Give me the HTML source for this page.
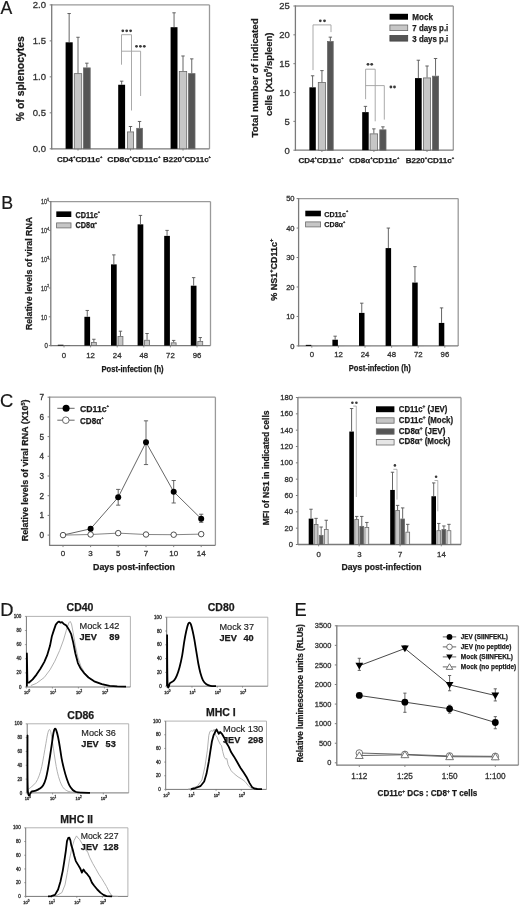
<!DOCTYPE html><html><head><meta charset="utf-8"><style>html,body{margin:0;padding:0;background:#fff;}svg{display:block;filter:grayscale(1) blur(0.35px);}text{font-family:"Liberation Sans",sans-serif;}</style></head><body>
<svg width="520" height="906" viewBox="0 0 520 906">
<rect width="520" height="906" fill="#fff"/>
<text x="0.6" y="14" font-size="17.6" fill="#1a1a1a" stroke="#000" stroke-width="0.18">A</text>
<line x1="51.7" y1="4.9" x2="209.5" y2="4.9" stroke="#9a9a9a" stroke-width="1.3"/>
<line x1="209.5" y1="4.9" x2="209.5" y2="148.8" stroke="#9a9a9a" stroke-width="1.3"/>
<line x1="51.7" y1="148.8" x2="209.5" y2="148.8" stroke="#7a7a7a" stroke-width="1.3"/>
<line x1="51.7" y1="4.3" x2="51.7" y2="149.4" stroke="#7a7a7a" stroke-width="1.3"/>
<line x1="49.7" y1="4.9" x2="51.7" y2="4.9" stroke="#7a7a7a" stroke-width="1"/>
<text x="46" y="8.3" font-size="9.5" text-anchor="end" fill="#333" stroke="#333" stroke-width="0.3">2.0</text>
<line x1="49.7" y1="40.88" x2="51.7" y2="40.88" stroke="#7a7a7a" stroke-width="1"/>
<text x="46" y="44.27" font-size="9.5" text-anchor="end" fill="#333" stroke="#333" stroke-width="0.3">1.5</text>
<line x1="49.7" y1="76.85" x2="51.7" y2="76.85" stroke="#7a7a7a" stroke-width="1"/>
<text x="46" y="80.25" font-size="9.5" text-anchor="end" fill="#333" stroke="#333" stroke-width="0.3">1.0</text>
<line x1="49.7" y1="112.83" x2="51.7" y2="112.83" stroke="#7a7a7a" stroke-width="1"/>
<text x="46" y="116.23" font-size="9.5" text-anchor="end" fill="#333" stroke="#333" stroke-width="0.3">0.5</text>
<line x1="49.7" y1="148.8" x2="51.7" y2="148.8" stroke="#7a7a7a" stroke-width="1"/>
<text x="46" y="152.2" font-size="9.5" text-anchor="end" fill="#333" stroke="#333" stroke-width="0.3">0.0</text>
<text x="23.6" y="78.7" font-size="10" font-weight="bold" text-anchor="middle" textLength="85" lengthAdjust="spacingAndGlyphs" transform="rotate(-90 23.6 78.7)" fill="#1a1a1a" stroke="#1a1a1a" stroke-width="0.25">%  of splenocytes</text>
<rect x="65.6" y="42.31" width="7.1" height="106.49" fill="#000"/>
<line x1="69.15" y1="13.53" x2="69.15" y2="42.31" stroke="#555" stroke-width="0.9"/>
<line x1="67.45" y1="13.53" x2="70.85" y2="13.53" stroke="#555" stroke-width="0.9"/>
<rect x="74.3" y="73.65" width="7.4" height="75.15" fill="#c6c6c6" stroke="#6a6a6a" stroke-width="0.8"/>
<line x1="78" y1="37.28" x2="78" y2="73.25" stroke="#555" stroke-width="0.9"/>
<line x1="76.3" y1="37.28" x2="79.7" y2="37.28" stroke="#555" stroke-width="0.9"/>
<rect x="83.5" y="67.9" width="6.7" height="80.9" fill="#555555" stroke="#6a6a6a" stroke-width="0.8"/>
<line x1="86.85" y1="63.18" x2="86.85" y2="67.5" stroke="#555" stroke-width="0.9"/>
<line x1="85.15" y1="63.18" x2="88.55" y2="63.18" stroke="#555" stroke-width="0.9"/>
<rect x="118.2" y="84.76" width="6.9" height="64.04" fill="#000"/>
<line x1="121.65" y1="81.17" x2="121.65" y2="84.76" stroke="#555" stroke-width="0.9"/>
<line x1="119.95" y1="81.17" x2="123.35" y2="81.17" stroke="#555" stroke-width="0.9"/>
<rect x="127.4" y="131.93" width="6.2" height="16.87" fill="#c6c6c6" stroke="#6a6a6a" stroke-width="0.8"/>
<line x1="130.5" y1="126.5" x2="130.5" y2="131.53" stroke="#555" stroke-width="0.9"/>
<line x1="128.8" y1="126.5" x2="132.2" y2="126.5" stroke="#555" stroke-width="0.9"/>
<rect x="136.7" y="128.33" width="5.7" height="20.47" fill="#555555" stroke="#6a6a6a" stroke-width="0.8"/>
<line x1="139.55" y1="121.46" x2="139.55" y2="127.93" stroke="#555" stroke-width="0.9"/>
<line x1="137.85" y1="121.46" x2="141.25" y2="121.46" stroke="#555" stroke-width="0.9"/>
<rect x="170.6" y="27.2" width="6.9" height="121.6" fill="#000"/>
<line x1="174.05" y1="12.81" x2="174.05" y2="27.2" stroke="#555" stroke-width="0.9"/>
<line x1="172.35" y1="12.81" x2="175.75" y2="12.81" stroke="#555" stroke-width="0.9"/>
<rect x="179.3" y="71.49" width="7.4" height="77.31" fill="#c6c6c6" stroke="#6a6a6a" stroke-width="0.8"/>
<line x1="183" y1="55.98" x2="183" y2="71.09" stroke="#555" stroke-width="0.9"/>
<line x1="181.3" y1="55.98" x2="184.7" y2="55.98" stroke="#555" stroke-width="0.9"/>
<rect x="188.5" y="73.65" width="6.5" height="75.15" fill="#555555" stroke="#6a6a6a" stroke-width="0.8"/>
<line x1="191.75" y1="58.86" x2="191.75" y2="73.25" stroke="#555" stroke-width="0.9"/>
<line x1="190.05" y1="58.86" x2="193.45" y2="58.86" stroke="#555" stroke-width="0.9"/>
<line x1="121.5" y1="34.7" x2="131.5" y2="34.7" stroke="#a0a0a0" stroke-width="0.9"/>
<line x1="121.5" y1="34.7" x2="121.5" y2="64.7" stroke="#a0a0a0" stroke-width="0.9"/>
<line x1="131.5" y1="34.7" x2="131.5" y2="110.5" stroke="#a0a0a0" stroke-width="0.9"/>
<line x1="121.5" y1="51.2" x2="140.6" y2="51.2" stroke="#a0a0a0" stroke-width="0.9"/>
<line x1="140.6" y1="51.2" x2="140.6" y2="96" stroke="#a0a0a0" stroke-width="0.9"/>
<circle cx="122.8" cy="30.8" r="1.4" fill="#3a3a3a"/>
<circle cx="126.7" cy="30.8" r="1.4" fill="#3a3a3a"/>
<circle cx="130.6" cy="30.8" r="1.4" fill="#3a3a3a"/>
<circle cx="136.5" cy="46.3" r="1.4" fill="#3a3a3a"/>
<circle cx="140.4" cy="46.3" r="1.4" fill="#3a3a3a"/>
<circle cx="144.3" cy="46.3" r="1.4" fill="#3a3a3a"/>
<line x1="78" y1="148.8" x2="78" y2="150.6" stroke="#7a7a7a" stroke-width="0.9"/>
<line x1="130.5" y1="148.8" x2="130.5" y2="150.6" stroke="#7a7a7a" stroke-width="0.9"/>
<line x1="183" y1="148.8" x2="183" y2="150.6" stroke="#7a7a7a" stroke-width="0.9"/>
<text x="57" y="162" font-size="8" font-weight="bold" textLength="45.4" lengthAdjust="spacingAndGlyphs" fill="#1a1a1a" stroke="#1a1a1a" stroke-width="0.25"><tspan dy="0">CD4</tspan><tspan font-size="4.16" dy="-3.6">+</tspan><tspan dy="3.6">CD11c</tspan><tspan font-size="4.16" dy="-3.6">+</tspan></text>
<text x="107.3" y="162" font-size="8" font-weight="bold" textLength="53.3" lengthAdjust="spacingAndGlyphs" fill="#1a1a1a" stroke="#1a1a1a" stroke-width="0.25"><tspan dy="0">CD8&#945;</tspan><tspan font-size="4.16" dy="-3.6">+</tspan><tspan dy="3.6">CD11c</tspan><tspan font-size="4.16" dy="-3.6">+</tspan></text>
<text x="163.1" y="162" font-size="8" font-weight="bold" textLength="47.9" lengthAdjust="spacingAndGlyphs" fill="#1a1a1a" stroke="#1a1a1a" stroke-width="0.25"><tspan dy="0">B220</tspan><tspan font-size="4.16" dy="-3.6">+</tspan><tspan dy="3.6">CD11c</tspan><tspan font-size="4.16" dy="-3.6">+</tspan></text>
<line x1="295.4" y1="6" x2="453.3" y2="6" stroke="#9a9a9a" stroke-width="1.3"/>
<line x1="453.3" y1="6" x2="453.3" y2="150.2" stroke="#9a9a9a" stroke-width="1.3"/>
<line x1="295.4" y1="150.2" x2="453.3" y2="150.2" stroke="#7a7a7a" stroke-width="1.3"/>
<line x1="295.4" y1="5.4" x2="295.4" y2="150.8" stroke="#7a7a7a" stroke-width="1.3"/>
<line x1="293.4" y1="6" x2="295.4" y2="6" stroke="#7a7a7a" stroke-width="1"/>
<text x="289.8" y="9.4" font-size="9.5" text-anchor="end" fill="#333" stroke="#333" stroke-width="0.3">25</text>
<line x1="293.4" y1="34.84" x2="295.4" y2="34.84" stroke="#7a7a7a" stroke-width="1"/>
<text x="289.8" y="38.24" font-size="9.5" text-anchor="end" fill="#333" stroke="#333" stroke-width="0.3">20</text>
<line x1="293.4" y1="63.68" x2="295.4" y2="63.68" stroke="#7a7a7a" stroke-width="1"/>
<text x="289.8" y="67.08" font-size="9.5" text-anchor="end" fill="#333" stroke="#333" stroke-width="0.3">15</text>
<line x1="293.4" y1="92.52" x2="295.4" y2="92.52" stroke="#7a7a7a" stroke-width="1"/>
<text x="289.8" y="95.92" font-size="9.5" text-anchor="end" fill="#333" stroke="#333" stroke-width="0.3">10</text>
<line x1="293.4" y1="121.36" x2="295.4" y2="121.36" stroke="#7a7a7a" stroke-width="1"/>
<text x="289.8" y="124.76" font-size="9.5" text-anchor="end" fill="#333" stroke="#333" stroke-width="0.3">5</text>
<line x1="293.4" y1="150.2" x2="295.4" y2="150.2" stroke="#7a7a7a" stroke-width="1"/>
<text x="289.8" y="153.6" font-size="9.5" text-anchor="end" fill="#333" stroke="#333" stroke-width="0.3">0</text>
<text x="258.5" y="77.8" font-size="9.8" font-weight="bold" text-anchor="middle" textLength="119.2" lengthAdjust="spacingAndGlyphs" transform="rotate(-90 258.5 77.8)" fill="#1a1a1a" stroke="#1a1a1a" stroke-width="0.25">Total number of indicated</text>
<text x="271.6" y="74.3" font-size="9.8" font-weight="bold" text-anchor="middle" textLength="83.6" lengthAdjust="spacingAndGlyphs" transform="rotate(-90 271.6 74.3)" fill="#1a1a1a" stroke="#1a1a1a" stroke-width="0.25">cells (X10<tspan font-size="6.2" dy="-3.8">5</tspan><tspan dy="3.8">/spleen)</tspan></text>
<rect x="309.4" y="87.33" width="6.4" height="62.87" fill="#000"/>
<line x1="312.6" y1="75.79" x2="312.6" y2="87.33" stroke="#555" stroke-width="0.9"/>
<line x1="310.9" y1="75.79" x2="314.3" y2="75.79" stroke="#555" stroke-width="0.9"/>
<rect x="318.3" y="82.54" width="7.3" height="67.66" fill="#c6c6c6" stroke="#6a6a6a" stroke-width="0.8"/>
<line x1="321.95" y1="70.6" x2="321.95" y2="82.14" stroke="#555" stroke-width="0.9"/>
<line x1="320.25" y1="70.6" x2="323.65" y2="70.6" stroke="#555" stroke-width="0.9"/>
<rect x="327.5" y="41.58" width="5.7" height="108.62" fill="#555555" stroke="#6a6a6a" stroke-width="0.8"/>
<line x1="330.35" y1="37.15" x2="330.35" y2="41.18" stroke="#555" stroke-width="0.9"/>
<line x1="328.65" y1="37.15" x2="332.05" y2="37.15" stroke="#555" stroke-width="0.9"/>
<rect x="362.2" y="112.13" width="6.5" height="38.07" fill="#000"/>
<line x1="365.45" y1="106.36" x2="365.45" y2="112.13" stroke="#555" stroke-width="0.9"/>
<line x1="363.75" y1="106.36" x2="367.15" y2="106.36" stroke="#555" stroke-width="0.9"/>
<rect x="370.1" y="133.87" width="7.5" height="16.33" fill="#c6c6c6" stroke="#6a6a6a" stroke-width="0.8"/>
<line x1="373.85" y1="128.86" x2="373.85" y2="133.47" stroke="#555" stroke-width="0.9"/>
<line x1="372.15" y1="128.86" x2="375.55" y2="128.86" stroke="#555" stroke-width="0.9"/>
<rect x="379.8" y="129.84" width="6.2" height="20.36" fill="#555555" stroke="#6a6a6a" stroke-width="0.8"/>
<line x1="382.9" y1="126.84" x2="382.9" y2="129.44" stroke="#555" stroke-width="0.9"/>
<line x1="381.2" y1="126.84" x2="384.6" y2="126.84" stroke="#555" stroke-width="0.9"/>
<rect x="415" y="78.1" width="6.7" height="72.1" fill="#000"/>
<line x1="418.35" y1="60.22" x2="418.35" y2="78.1" stroke="#555" stroke-width="0.9"/>
<line x1="416.65" y1="60.22" x2="420.05" y2="60.22" stroke="#555" stroke-width="0.9"/>
<rect x="423.5" y="77.92" width="7.1" height="72.28" fill="#c6c6c6" stroke="#6a6a6a" stroke-width="0.8"/>
<line x1="427.05" y1="65.99" x2="427.05" y2="77.52" stroke="#555" stroke-width="0.9"/>
<line x1="425.35" y1="65.99" x2="428.75" y2="65.99" stroke="#555" stroke-width="0.9"/>
<rect x="432.5" y="76.19" width="6.1" height="74.01" fill="#555555" stroke="#6a6a6a" stroke-width="0.8"/>
<line x1="435.55" y1="58.49" x2="435.55" y2="75.79" stroke="#555" stroke-width="0.9"/>
<line x1="433.85" y1="58.49" x2="437.25" y2="58.49" stroke="#555" stroke-width="0.9"/>
<line x1="313" y1="24.9" x2="331" y2="24.9" stroke="#a0a0a0" stroke-width="0.9"/>
<line x1="313" y1="24.9" x2="313" y2="70.1" stroke="#a0a0a0" stroke-width="0.9"/>
<line x1="331" y1="24.9" x2="331" y2="32.1" stroke="#a0a0a0" stroke-width="0.9"/>
<circle cx="320.3" cy="20.8" r="1.4" fill="#3a3a3a"/>
<circle cx="324.5" cy="20.8" r="1.4" fill="#3a3a3a"/>
<line x1="365.6" y1="69.2" x2="375.2" y2="69.2" stroke="#a0a0a0" stroke-width="0.9"/>
<line x1="365.6" y1="69.2" x2="365.6" y2="99.2" stroke="#a0a0a0" stroke-width="0.9"/>
<line x1="375.2" y1="69.2" x2="375.2" y2="121.3" stroke="#a0a0a0" stroke-width="0.9"/>
<line x1="365.6" y1="85.6" x2="384.3" y2="85.6" stroke="#a0a0a0" stroke-width="0.9"/>
<line x1="384.3" y1="85.6" x2="384.3" y2="119.6" stroke="#a0a0a0" stroke-width="0.9"/>
<circle cx="368" cy="64.3" r="1.4" fill="#3a3a3a"/>
<circle cx="371.7" cy="64.3" r="1.4" fill="#3a3a3a"/>
<circle cx="390.9" cy="87" r="1.4" fill="#3a3a3a"/>
<circle cx="394.5" cy="87" r="1.4" fill="#3a3a3a"/>
<rect x="389.6" y="13.8" width="18.4" height="5.9" fill="#000"/>
<rect x="389.9" y="25" width="17.8" height="5.6" fill="#c6c6c6" stroke="#6a6a6a" stroke-width="0.8"/>
<rect x="389.9" y="35.5" width="17.8" height="5.6" fill="#555555" stroke="#444" stroke-width="0.8"/>
<text x="412.3" y="19.8" font-size="9" font-weight="bold" textLength="20.6" lengthAdjust="spacingAndGlyphs" fill="#1a1a1a" stroke="#1a1a1a" stroke-width="0.25">Mock</text>
<text x="412.3" y="31" font-size="9" font-weight="bold" textLength="36" lengthAdjust="spacingAndGlyphs" fill="#1a1a1a" stroke="#1a1a1a" stroke-width="0.25">7 days p.i</text>
<text x="412.3" y="41.5" font-size="9" font-weight="bold" textLength="36" lengthAdjust="spacingAndGlyphs" fill="#1a1a1a" stroke="#1a1a1a" stroke-width="0.25">3 days p.i</text>
<line x1="321.9" y1="150.2" x2="321.9" y2="152" stroke="#7a7a7a" stroke-width="0.9"/>
<line x1="373.9" y1="150.2" x2="373.9" y2="152" stroke="#7a7a7a" stroke-width="0.9"/>
<line x1="427" y1="150.2" x2="427" y2="152" stroke="#7a7a7a" stroke-width="0.9"/>
<text x="298.4" y="162.6" font-size="8" font-weight="bold" textLength="45.3" lengthAdjust="spacingAndGlyphs" fill="#1a1a1a" stroke="#1a1a1a" stroke-width="0.25"><tspan dy="0">CD4</tspan><tspan font-size="4.16" dy="-3.6">+</tspan><tspan dy="3.6">CD11c</tspan><tspan font-size="4.16" dy="-3.6">+</tspan></text>
<text x="349.2" y="162.6" font-size="8" font-weight="bold" textLength="50.3" lengthAdjust="spacingAndGlyphs" fill="#1a1a1a" stroke="#1a1a1a" stroke-width="0.25"><tspan dy="0">CD8&#945;</tspan><tspan font-size="4.16" dy="-3.6">+</tspan><tspan dy="3.6">CD11c</tspan><tspan font-size="4.16" dy="-3.6">+</tspan></text>
<text x="405.7" y="162.6" font-size="8" font-weight="bold" textLength="48.4" lengthAdjust="spacingAndGlyphs" fill="#1a1a1a" stroke="#1a1a1a" stroke-width="0.25"><tspan dy="0">B220</tspan><tspan font-size="4.16" dy="-3.6">+</tspan><tspan dy="3.6">CD11c</tspan><tspan font-size="4.16" dy="-3.6">+</tspan></text>
<text x="1.3" y="209.2" font-size="17.8" fill="#1a1a1a" stroke="#000" stroke-width="0.18">B</text>
<line x1="50.8" y1="201.6" x2="210.5" y2="201.6" stroke="#9a9a9a" stroke-width="1.3"/>
<line x1="210.5" y1="201.6" x2="210.5" y2="345.6" stroke="#9a9a9a" stroke-width="1.3"/>
<line x1="50.8" y1="345.6" x2="210.5" y2="345.6" stroke="#7a7a7a" stroke-width="1.3"/>
<line x1="50.8" y1="201" x2="50.8" y2="346.2" stroke="#7a7a7a" stroke-width="1.3"/>
<line x1="48.8" y1="345.6" x2="50.8" y2="345.6" stroke="#7a7a7a" stroke-width="1"/>
<text x="0" y="0" font-size="7.6" text-anchor="end" transform="translate(47.8 348.3) scale(0.8 1)" fill="#333" stroke="#333" stroke-width="0.3">0</text>
<line x1="48.8" y1="316.8" x2="50.8" y2="316.8" stroke="#7a7a7a" stroke-width="1"/>
<text x="0" y="0" font-size="7.6" text-anchor="end" transform="translate(47 319.5) scale(0.72 1)" fill="#333" stroke="#333" stroke-width="0.3">10</text>
<line x1="48.8" y1="288" x2="50.8" y2="288" stroke="#7a7a7a" stroke-width="1"/>
<text x="0" y="0" font-size="7.6" text-anchor="end" transform="translate(48.9 290.7) scale(0.72 1)" fill="#333" stroke="#333" stroke-width="0.3">10<tspan font-size="4.4" dy="-3.4">2</tspan></text>
<line x1="48.8" y1="259.2" x2="50.8" y2="259.2" stroke="#7a7a7a" stroke-width="1"/>
<text x="0" y="0" font-size="7.6" text-anchor="end" transform="translate(48.9 261.9) scale(0.72 1)" fill="#333" stroke="#333" stroke-width="0.3">10<tspan font-size="4.4" dy="-3.4">3</tspan></text>
<line x1="48.8" y1="230.4" x2="50.8" y2="230.4" stroke="#7a7a7a" stroke-width="1"/>
<text x="0" y="0" font-size="7.6" text-anchor="end" transform="translate(48.9 233.1) scale(0.72 1)" fill="#333" stroke="#333" stroke-width="0.3">10<tspan font-size="4.4" dy="-3.4">4</tspan></text>
<line x1="48.8" y1="201.6" x2="50.8" y2="201.6" stroke="#7a7a7a" stroke-width="1"/>
<text x="0" y="0" font-size="7.6" text-anchor="end" transform="translate(48.9 204.3) scale(0.72 1)" fill="#333" stroke="#333" stroke-width="0.3">10<tspan font-size="4.4" dy="-3.4">5</tspan></text>
<text x="32.3" y="273.5" font-size="8.8" font-weight="bold" text-anchor="middle" textLength="113.2" lengthAdjust="spacingAndGlyphs" transform="rotate(-90 32.3 273.5)" fill="#1a1a1a" stroke="#1a1a1a" stroke-width="0.25">Relative levels of viral RNA</text>
<rect x="57.8" y="344.74" width="5.7" height="0.86" fill="#000"/>
<rect x="64.8" y="345.42" width="4.9" height="0.18" fill="#c6c6c6" stroke="#6a6a6a" stroke-width="0.8"/>
<text x="64" y="358.1" font-size="7.8" text-anchor="middle" fill="#333" stroke="#333" stroke-width="0.3">0</text>
<line x1="64" y1="345.6" x2="64" y2="347.4" stroke="#7a7a7a" stroke-width="0.9"/>
<rect x="84.4" y="316.8" width="5.7" height="28.8" fill="#000"/>
<line x1="87.25" y1="310.46" x2="87.25" y2="316.8" stroke="#555" stroke-width="0.9"/>
<line x1="85.55" y1="310.46" x2="88.95" y2="310.46" stroke="#555" stroke-width="0.9"/>
<rect x="91.4" y="342.54" width="4.9" height="3.06" fill="#c6c6c6" stroke="#6a6a6a" stroke-width="0.8"/>
<line x1="93.85" y1="339.26" x2="93.85" y2="342.14" stroke="#555" stroke-width="0.9"/>
<line x1="92.15" y1="339.26" x2="95.55" y2="339.26" stroke="#555" stroke-width="0.9"/>
<text x="90.6" y="358.1" font-size="7.8" text-anchor="middle" fill="#333" stroke="#333" stroke-width="0.3">12</text>
<line x1="90.6" y1="345.6" x2="90.6" y2="347.4" stroke="#7a7a7a" stroke-width="0.9"/>
<rect x="111" y="264.38" width="5.7" height="81.22" fill="#000"/>
<line x1="113.85" y1="254.88" x2="113.85" y2="264.38" stroke="#555" stroke-width="0.9"/>
<line x1="112.15" y1="254.88" x2="115.55" y2="254.88" stroke="#555" stroke-width="0.9"/>
<rect x="118" y="336.5" width="4.9" height="9.1" fill="#c6c6c6" stroke="#6a6a6a" stroke-width="0.8"/>
<line x1="120.45" y1="331.2" x2="120.45" y2="336.1" stroke="#555" stroke-width="0.9"/>
<line x1="118.75" y1="331.2" x2="122.15" y2="331.2" stroke="#555" stroke-width="0.9"/>
<text x="117.2" y="358.1" font-size="7.8" text-anchor="middle" fill="#333" stroke="#333" stroke-width="0.3">24</text>
<line x1="117.2" y1="345.6" x2="117.2" y2="347.4" stroke="#7a7a7a" stroke-width="0.9"/>
<rect x="137.6" y="224.35" width="5.7" height="121.25" fill="#000"/>
<line x1="140.45" y1="215.42" x2="140.45" y2="224.35" stroke="#555" stroke-width="0.9"/>
<line x1="138.75" y1="215.42" x2="142.15" y2="215.42" stroke="#555" stroke-width="0.9"/>
<rect x="144.6" y="340.24" width="4.9" height="5.36" fill="#c6c6c6" stroke="#6a6a6a" stroke-width="0.8"/>
<line x1="147.05" y1="333.5" x2="147.05" y2="339.84" stroke="#555" stroke-width="0.9"/>
<line x1="145.35" y1="333.5" x2="148.75" y2="333.5" stroke="#555" stroke-width="0.9"/>
<text x="143.8" y="358.1" font-size="7.8" text-anchor="middle" fill="#333" stroke="#333" stroke-width="0.3">48</text>
<line x1="143.8" y1="345.6" x2="143.8" y2="347.4" stroke="#7a7a7a" stroke-width="0.9"/>
<rect x="164.2" y="235.87" width="5.7" height="109.73" fill="#000"/>
<line x1="167.05" y1="230.4" x2="167.05" y2="235.87" stroke="#555" stroke-width="0.9"/>
<line x1="165.35" y1="230.4" x2="168.75" y2="230.4" stroke="#555" stroke-width="0.9"/>
<rect x="171.2" y="342.83" width="4.9" height="2.77" fill="#c6c6c6" stroke="#6a6a6a" stroke-width="0.8"/>
<line x1="173.65" y1="340.42" x2="173.65" y2="342.43" stroke="#555" stroke-width="0.9"/>
<line x1="171.95" y1="340.42" x2="175.35" y2="340.42" stroke="#555" stroke-width="0.9"/>
<text x="170.4" y="358.1" font-size="7.8" text-anchor="middle" fill="#333" stroke="#333" stroke-width="0.3">72</text>
<line x1="170.4" y1="345.6" x2="170.4" y2="347.4" stroke="#7a7a7a" stroke-width="0.9"/>
<rect x="190.8" y="285.7" width="5.7" height="59.9" fill="#000"/>
<line x1="193.65" y1="277.63" x2="193.65" y2="285.7" stroke="#555" stroke-width="0.9"/>
<line x1="191.95" y1="277.63" x2="195.35" y2="277.63" stroke="#555" stroke-width="0.9"/>
<rect x="197.8" y="341.39" width="4.9" height="4.21" fill="#c6c6c6" stroke="#6a6a6a" stroke-width="0.8"/>
<line x1="200.25" y1="337.54" x2="200.25" y2="340.99" stroke="#555" stroke-width="0.9"/>
<line x1="198.55" y1="337.54" x2="201.95" y2="337.54" stroke="#555" stroke-width="0.9"/>
<text x="197" y="358.1" font-size="7.8" text-anchor="middle" fill="#333" stroke="#333" stroke-width="0.3">96</text>
<line x1="197" y1="345.6" x2="197" y2="347.4" stroke="#7a7a7a" stroke-width="0.9"/>
<rect x="56.3" y="211.4" width="15" height="5.6" fill="#000"/>
<rect x="56.6" y="222.9" width="14.4" height="5" fill="#c6c6c6" stroke="#6a6a6a" stroke-width="0.8"/>
<text x="75.5" y="217.6" font-size="8.2" font-weight="bold" textLength="24.6" lengthAdjust="spacingAndGlyphs" fill="#1a1a1a" stroke="#1a1a1a" stroke-width="0.25">CD11c<tspan font-size="4.4" dy="-4.2">+</tspan></text>
<text x="75.5" y="228.2" font-size="8.2" font-weight="bold" textLength="21.5" lengthAdjust="spacingAndGlyphs" fill="#1a1a1a" stroke="#1a1a1a" stroke-width="0.25">CD8&#945;<tspan font-size="4.4" dy="-4.2">+</tspan></text>
<text x="132.6" y="371.6" font-size="8.6" font-weight="bold" text-anchor="middle" textLength="62" lengthAdjust="spacingAndGlyphs" fill="#1a1a1a" stroke="#1a1a1a" stroke-width="0.25">Post-infection (h)</text>
<line x1="298.6" y1="198.6" x2="458.2" y2="198.6" stroke="#9a9a9a" stroke-width="1.3"/>
<line x1="458.2" y1="198.6" x2="458.2" y2="345.9" stroke="#9a9a9a" stroke-width="1.3"/>
<line x1="298.6" y1="345.9" x2="458.2" y2="345.9" stroke="#7a7a7a" stroke-width="1.3"/>
<line x1="298.6" y1="198" x2="298.6" y2="346.5" stroke="#7a7a7a" stroke-width="1.3"/>
<line x1="296.6" y1="198.6" x2="298.6" y2="198.6" stroke="#7a7a7a" stroke-width="1"/>
<text x="294.6" y="201.2" font-size="7.6" text-anchor="end" fill="#333" stroke="#333" stroke-width="0.3">50</text>
<line x1="296.6" y1="228.06" x2="298.6" y2="228.06" stroke="#7a7a7a" stroke-width="1"/>
<text x="294.6" y="230.66" font-size="7.6" text-anchor="end" fill="#333" stroke="#333" stroke-width="0.3">40</text>
<line x1="296.6" y1="257.52" x2="298.6" y2="257.52" stroke="#7a7a7a" stroke-width="1"/>
<text x="294.6" y="260.12" font-size="7.6" text-anchor="end" fill="#333" stroke="#333" stroke-width="0.3">30</text>
<line x1="296.6" y1="286.98" x2="298.6" y2="286.98" stroke="#7a7a7a" stroke-width="1"/>
<text x="294.6" y="289.58" font-size="7.6" text-anchor="end" fill="#333" stroke="#333" stroke-width="0.3">20</text>
<line x1="296.6" y1="316.44" x2="298.6" y2="316.44" stroke="#7a7a7a" stroke-width="1"/>
<text x="294.6" y="319.04" font-size="7.6" text-anchor="end" fill="#333" stroke="#333" stroke-width="0.3">10</text>
<line x1="296.6" y1="345.9" x2="298.6" y2="345.9" stroke="#7a7a7a" stroke-width="1"/>
<text x="294.6" y="348.5" font-size="7.6" text-anchor="end" fill="#333" stroke="#333" stroke-width="0.3">0</text>
<text x="277.1" y="269.7" font-size="8.6" font-weight="bold" text-anchor="middle" textLength="62" lengthAdjust="spacingAndGlyphs" transform="rotate(-90 277.1 269.7)" fill="#1a1a1a" stroke="#1a1a1a" stroke-width="0.25">% NS1<tspan font-size="5.4" dy="-3.6">+</tspan><tspan dy="3.6">CD11c</tspan><tspan font-size="5.4" dy="-3.6">+</tspan></text>
<rect x="305.8" y="344.87" width="5.5" height="1.03" fill="#000"/>
<line x1="312.2" y1="345.6" x2="317.6" y2="345.6" stroke="#999" stroke-width="0.8"/>
<text x="311.9" y="357.3" font-size="7.8" text-anchor="middle" fill="#333" stroke="#333" stroke-width="0.3">0</text>
<line x1="311.8" y1="345.9" x2="311.8" y2="347.7" stroke="#7a7a7a" stroke-width="0.9"/>
<rect x="332.4" y="339.71" width="5.5" height="6.19" fill="#000"/>
<line x1="335.15" y1="336.18" x2="335.15" y2="339.71" stroke="#555" stroke-width="0.9"/>
<line x1="333.45" y1="336.18" x2="336.85" y2="336.18" stroke="#555" stroke-width="0.9"/>
<line x1="338.8" y1="345.6" x2="344.2" y2="345.6" stroke="#999" stroke-width="0.8"/>
<text x="338.5" y="357.3" font-size="7.8" text-anchor="middle" fill="#333" stroke="#333" stroke-width="0.3">12</text>
<line x1="338.4" y1="345.9" x2="338.4" y2="347.7" stroke="#7a7a7a" stroke-width="0.9"/>
<rect x="359" y="312.9" width="5.5" height="33" fill="#000"/>
<line x1="361.75" y1="303.18" x2="361.75" y2="312.9" stroke="#555" stroke-width="0.9"/>
<line x1="360.05" y1="303.18" x2="363.45" y2="303.18" stroke="#555" stroke-width="0.9"/>
<line x1="365.4" y1="345.6" x2="370.8" y2="345.6" stroke="#999" stroke-width="0.8"/>
<text x="365.1" y="357.3" font-size="7.8" text-anchor="middle" fill="#333" stroke="#333" stroke-width="0.3">24</text>
<line x1="365" y1="345.9" x2="365" y2="347.7" stroke="#7a7a7a" stroke-width="0.9"/>
<rect x="385.6" y="248.09" width="5.5" height="97.81" fill="#000"/>
<line x1="388.35" y1="228.06" x2="388.35" y2="248.09" stroke="#555" stroke-width="0.9"/>
<line x1="386.65" y1="228.06" x2="390.05" y2="228.06" stroke="#555" stroke-width="0.9"/>
<line x1="392" y1="345.6" x2="397.4" y2="345.6" stroke="#999" stroke-width="0.8"/>
<text x="391.7" y="357.3" font-size="7.8" text-anchor="middle" fill="#333" stroke="#333" stroke-width="0.3">48</text>
<line x1="391.6" y1="345.9" x2="391.6" y2="347.7" stroke="#7a7a7a" stroke-width="0.9"/>
<rect x="412.2" y="282.56" width="5.5" height="63.34" fill="#000"/>
<line x1="414.95" y1="266.65" x2="414.95" y2="282.56" stroke="#555" stroke-width="0.9"/>
<line x1="413.25" y1="266.65" x2="416.65" y2="266.65" stroke="#555" stroke-width="0.9"/>
<line x1="418.6" y1="345.6" x2="424" y2="345.6" stroke="#999" stroke-width="0.8"/>
<text x="418.3" y="357.3" font-size="7.8" text-anchor="middle" fill="#333" stroke="#333" stroke-width="0.3">72</text>
<line x1="418.2" y1="345.9" x2="418.2" y2="347.7" stroke="#7a7a7a" stroke-width="0.9"/>
<rect x="438.8" y="322.92" width="5.5" height="22.98" fill="#000"/>
<line x1="441.55" y1="307.9" x2="441.55" y2="322.92" stroke="#555" stroke-width="0.9"/>
<line x1="439.85" y1="307.9" x2="443.25" y2="307.9" stroke="#555" stroke-width="0.9"/>
<line x1="445.2" y1="345.6" x2="450.6" y2="345.6" stroke="#999" stroke-width="0.8"/>
<text x="444.9" y="357.3" font-size="7.8" text-anchor="middle" fill="#333" stroke="#333" stroke-width="0.3">96</text>
<line x1="444.8" y1="345.9" x2="444.8" y2="347.7" stroke="#7a7a7a" stroke-width="0.9"/>
<rect x="305.3" y="210.7" width="15.6" height="5.6" fill="#000"/>
<rect x="305.6" y="221.9" width="15" height="5" fill="#c6c6c6" stroke="#6a6a6a" stroke-width="0.8"/>
<text x="324.3" y="216.6" font-size="8.1" font-weight="bold" textLength="24" lengthAdjust="spacingAndGlyphs" fill="#1a1a1a" stroke="#1a1a1a" stroke-width="0.25">CD11c<tspan font-size="4.4" dy="-4.2">+</tspan></text>
<text x="324.3" y="227.4" font-size="8.1" font-weight="bold" textLength="21" lengthAdjust="spacingAndGlyphs" fill="#1a1a1a" stroke="#1a1a1a" stroke-width="0.25">CD8&#945;<tspan font-size="4.4" dy="-4.2">+</tspan></text>
<text x="379.8" y="371.4" font-size="8.6" font-weight="bold" text-anchor="middle" textLength="62" lengthAdjust="spacingAndGlyphs" fill="#1a1a1a" stroke="#1a1a1a" stroke-width="0.25">Post-infection (h)</text>
<text x="-0.1" y="407.3" font-size="18.3" fill="#1a1a1a" stroke="#000" stroke-width="0.18">C</text>
<line x1="49.6" y1="397.2" x2="215.4" y2="397.2" stroke="#9a9a9a" stroke-width="1.3"/>
<line x1="215.4" y1="397.2" x2="215.4" y2="545.3" stroke="#9a9a9a" stroke-width="1.3"/>
<line x1="49.6" y1="545.3" x2="215.4" y2="545.3" stroke="#7a7a7a" stroke-width="1.3"/>
<line x1="49.6" y1="396.6" x2="49.6" y2="545.9" stroke="#7a7a7a" stroke-width="1.3"/>
<line x1="47.6" y1="535.1" x2="49.6" y2="535.1" stroke="#7a7a7a" stroke-width="1"/>
<text x="44.1" y="538" font-size="8.2" text-anchor="end" fill="#333" stroke="#333" stroke-width="0.3">0</text>
<line x1="47.6" y1="515.4" x2="49.6" y2="515.4" stroke="#7a7a7a" stroke-width="1"/>
<text x="44.1" y="518.3" font-size="8.2" text-anchor="end" fill="#333" stroke="#333" stroke-width="0.3">1</text>
<line x1="47.6" y1="495.7" x2="49.6" y2="495.7" stroke="#7a7a7a" stroke-width="1"/>
<text x="44.1" y="498.6" font-size="8.2" text-anchor="end" fill="#333" stroke="#333" stroke-width="0.3">2</text>
<line x1="47.6" y1="476" x2="49.6" y2="476" stroke="#7a7a7a" stroke-width="1"/>
<text x="44.1" y="478.9" font-size="8.2" text-anchor="end" fill="#333" stroke="#333" stroke-width="0.3">3</text>
<line x1="47.6" y1="456.3" x2="49.6" y2="456.3" stroke="#7a7a7a" stroke-width="1"/>
<text x="44.1" y="459.2" font-size="8.2" text-anchor="end" fill="#333" stroke="#333" stroke-width="0.3">4</text>
<line x1="47.6" y1="436.6" x2="49.6" y2="436.6" stroke="#7a7a7a" stroke-width="1"/>
<text x="44.1" y="439.5" font-size="8.2" text-anchor="end" fill="#333" stroke="#333" stroke-width="0.3">5</text>
<line x1="47.6" y1="416.9" x2="49.6" y2="416.9" stroke="#7a7a7a" stroke-width="1"/>
<text x="44.1" y="419.8" font-size="8.2" text-anchor="end" fill="#333" stroke="#333" stroke-width="0.3">6</text>
<line x1="47.6" y1="397.2" x2="49.6" y2="397.2" stroke="#7a7a7a" stroke-width="1"/>
<text x="44.1" y="400.1" font-size="8.2" text-anchor="end" fill="#333" stroke="#333" stroke-width="0.3">7</text>
<text x="28" y="470.4" font-size="8.8" font-weight="bold" text-anchor="middle" textLength="141.8" lengthAdjust="spacingAndGlyphs" transform="rotate(-90 28 470.4)" fill="#1a1a1a" stroke="#1a1a1a" stroke-width="0.25">Relative levels of viral RNA (X10<tspan font-size="5.4" dy="-3.4">5</tspan><tspan dy="3.4">)</tspan></text>
<polyline points="63,535.1 90.6,528.8 118.2,497.28 146,442.31 173.7,491.76 201.2,518.75" fill="none" stroke="#555" stroke-width="0.9"/>
<polyline points="63,535.1 90.6,534.51 118.2,533.13 146,534.51 173.7,534.71 201.2,534.12" fill="none" stroke="#777" stroke-width="0.9"/>
<line x1="90.6" y1="530.77" x2="90.6" y2="526.83" stroke="#555" stroke-width="0.9"/>
<line x1="88.5" y1="530.77" x2="92.7" y2="530.77" stroke="#555" stroke-width="0.9"/>
<line x1="88.5" y1="526.83" x2="92.7" y2="526.83" stroke="#555" stroke-width="0.9"/>
<line x1="118.2" y1="505.16" x2="118.2" y2="489.4" stroke="#555" stroke-width="0.9"/>
<line x1="116.1" y1="505.16" x2="120.3" y2="505.16" stroke="#555" stroke-width="0.9"/>
<line x1="116.1" y1="489.4" x2="120.3" y2="489.4" stroke="#555" stroke-width="0.9"/>
<line x1="146" y1="464.57" x2="146" y2="420.84" stroke="#555" stroke-width="0.9"/>
<line x1="143.9" y1="464.57" x2="148.1" y2="464.57" stroke="#555" stroke-width="0.9"/>
<line x1="143.9" y1="420.84" x2="148.1" y2="420.84" stroke="#555" stroke-width="0.9"/>
<line x1="173.7" y1="502.99" x2="173.7" y2="480.53" stroke="#555" stroke-width="0.9"/>
<line x1="171.6" y1="502.99" x2="175.8" y2="502.99" stroke="#555" stroke-width="0.9"/>
<line x1="171.6" y1="480.53" x2="175.8" y2="480.53" stroke="#555" stroke-width="0.9"/>
<line x1="201.2" y1="522.3" x2="201.2" y2="514.22" stroke="#555" stroke-width="0.9"/>
<line x1="199.1" y1="522.3" x2="203.3" y2="522.3" stroke="#555" stroke-width="0.9"/>
<line x1="199.1" y1="514.22" x2="203.3" y2="514.22" stroke="#555" stroke-width="0.9"/>
<circle cx="63" cy="535.1" r="2.75" fill="#fff" stroke="#333" stroke-width="0.85"/>
<circle cx="90.6" cy="534.51" r="2.75" fill="#fff" stroke="#333" stroke-width="0.85"/>
<circle cx="118.2" cy="533.13" r="2.75" fill="#fff" stroke="#333" stroke-width="0.85"/>
<circle cx="146" cy="534.51" r="2.75" fill="#fff" stroke="#333" stroke-width="0.85"/>
<circle cx="173.7" cy="534.71" r="2.75" fill="#fff" stroke="#333" stroke-width="0.85"/>
<circle cx="201.2" cy="534.12" r="2.75" fill="#fff" stroke="#333" stroke-width="0.85"/>
<circle cx="90.6" cy="528.8" r="3.0" fill="#000"/>
<circle cx="118.2" cy="497.28" r="3.0" fill="#000"/>
<circle cx="146" cy="442.31" r="3.0" fill="#000"/>
<circle cx="173.7" cy="491.76" r="3.0" fill="#000"/>
<circle cx="201.2" cy="518.75" r="3.0" fill="#000"/>
<text x="63" y="555.9" font-size="8" text-anchor="middle" fill="#333" stroke="#333" stroke-width="0.3">0</text>
<line x1="63" y1="545.3" x2="63" y2="547.1" stroke="#7a7a7a" stroke-width="0.9"/>
<text x="90.6" y="555.9" font-size="8" text-anchor="middle" fill="#333" stroke="#333" stroke-width="0.3">3</text>
<line x1="90.6" y1="545.3" x2="90.6" y2="547.1" stroke="#7a7a7a" stroke-width="0.9"/>
<text x="118.2" y="555.9" font-size="8" text-anchor="middle" fill="#333" stroke="#333" stroke-width="0.3">5</text>
<line x1="118.2" y1="545.3" x2="118.2" y2="547.1" stroke="#7a7a7a" stroke-width="0.9"/>
<text x="146" y="555.9" font-size="8" text-anchor="middle" fill="#333" stroke="#333" stroke-width="0.3">7</text>
<line x1="146" y1="545.3" x2="146" y2="547.1" stroke="#7a7a7a" stroke-width="0.9"/>
<text x="173.7" y="555.9" font-size="8" text-anchor="middle" fill="#333" stroke="#333" stroke-width="0.3">10</text>
<line x1="173.7" y1="545.3" x2="173.7" y2="547.1" stroke="#7a7a7a" stroke-width="0.9"/>
<text x="201.2" y="555.9" font-size="8" text-anchor="middle" fill="#333" stroke="#333" stroke-width="0.3">14</text>
<line x1="201.2" y1="545.3" x2="201.2" y2="547.1" stroke="#7a7a7a" stroke-width="0.9"/>
<line x1="57.3" y1="408.3" x2="74.6" y2="408.3" stroke="#555" stroke-width="0.9"/>
<circle cx="66.1" cy="408.3" r="3.5" fill="#000"/>
<line x1="57.3" y1="420.2" x2="74.6" y2="420.2" stroke="#555" stroke-width="0.9"/>
<circle cx="65.8" cy="420.2" r="3.3" fill="#fff" stroke="#444" stroke-width="0.8"/>
<text x="80" y="411.8" font-size="8.6" font-weight="bold" textLength="29.2" lengthAdjust="spacingAndGlyphs" fill="#1a1a1a" stroke="#1a1a1a" stroke-width="0.25">CD11c<tspan font-size="4.4" dy="-4.4">+</tspan></text>
<text x="80" y="423.6" font-size="8.6" font-weight="bold" textLength="23.6" lengthAdjust="spacingAndGlyphs" fill="#1a1a1a" stroke="#1a1a1a" stroke-width="0.25">CD8&#945;<tspan font-size="4.4" dy="-4.4">+</tspan></text>
<text x="134" y="570" font-size="8.8" font-weight="bold" text-anchor="middle" textLength="82" lengthAdjust="spacingAndGlyphs" fill="#1a1a1a" stroke="#1a1a1a" stroke-width="0.25">Days post-infection</text>
<line x1="297.9" y1="397.5" x2="461" y2="397.5" stroke="#9a9a9a" stroke-width="1.3"/>
<line x1="461" y1="397.5" x2="461" y2="544.5" stroke="#9a9a9a" stroke-width="1.3"/>
<line x1="297.9" y1="544.5" x2="461" y2="544.5" stroke="#7a7a7a" stroke-width="1.3"/>
<line x1="297.9" y1="396.9" x2="297.9" y2="545.1" stroke="#7a7a7a" stroke-width="1.3"/>
<line x1="295.9" y1="544.5" x2="297.9" y2="544.5" stroke="#7a7a7a" stroke-width="1"/>
<text x="292.9" y="547.1" font-size="7.6" text-anchor="end" fill="#333" stroke="#333" stroke-width="0.3">0</text>
<line x1="295.9" y1="528.17" x2="297.9" y2="528.17" stroke="#7a7a7a" stroke-width="1"/>
<text x="292.9" y="530.77" font-size="7.6" text-anchor="end" fill="#333" stroke="#333" stroke-width="0.3">20</text>
<line x1="295.9" y1="511.83" x2="297.9" y2="511.83" stroke="#7a7a7a" stroke-width="1"/>
<text x="292.9" y="514.43" font-size="7.6" text-anchor="end" fill="#333" stroke="#333" stroke-width="0.3">40</text>
<line x1="295.9" y1="495.5" x2="297.9" y2="495.5" stroke="#7a7a7a" stroke-width="1"/>
<text x="292.9" y="498.1" font-size="7.6" text-anchor="end" fill="#333" stroke="#333" stroke-width="0.3">60</text>
<line x1="295.9" y1="479.17" x2="297.9" y2="479.17" stroke="#7a7a7a" stroke-width="1"/>
<text x="292.9" y="481.77" font-size="7.6" text-anchor="end" fill="#333" stroke="#333" stroke-width="0.3">80</text>
<line x1="295.9" y1="462.83" x2="297.9" y2="462.83" stroke="#7a7a7a" stroke-width="1"/>
<text x="292.9" y="465.43" font-size="7.6" text-anchor="end" fill="#333" stroke="#333" stroke-width="0.3">100</text>
<line x1="295.9" y1="446.5" x2="297.9" y2="446.5" stroke="#7a7a7a" stroke-width="1"/>
<text x="292.9" y="449.1" font-size="7.6" text-anchor="end" fill="#333" stroke="#333" stroke-width="0.3">120</text>
<line x1="295.9" y1="430.17" x2="297.9" y2="430.17" stroke="#7a7a7a" stroke-width="1"/>
<text x="292.9" y="432.77" font-size="7.6" text-anchor="end" fill="#333" stroke="#333" stroke-width="0.3">140</text>
<line x1="295.9" y1="413.83" x2="297.9" y2="413.83" stroke="#7a7a7a" stroke-width="1"/>
<text x="292.9" y="416.43" font-size="7.6" text-anchor="end" fill="#333" stroke="#333" stroke-width="0.3">160</text>
<line x1="295.9" y1="397.5" x2="297.9" y2="397.5" stroke="#7a7a7a" stroke-width="1"/>
<text x="292.9" y="400.1" font-size="7.6" text-anchor="end" fill="#333" stroke="#333" stroke-width="0.3">180</text>
<text x="268.9" y="467.9" font-size="8.8" font-weight="bold" text-anchor="middle" textLength="114.8" lengthAdjust="spacingAndGlyphs" transform="rotate(-90 268.9 467.9)" fill="#1a1a1a" stroke="#1a1a1a" stroke-width="0.25">MFI of NS1 in indicated cells</text>
<rect x="308.7" y="518.61" width="4.6" height="25.89" fill="#000"/>
<line x1="311" y1="509.22" x2="311" y2="518.61" stroke="#555" stroke-width="0.9"/>
<line x1="309.3" y1="509.22" x2="312.7" y2="509.22" stroke="#555" stroke-width="0.9"/>
<rect x="314.18" y="524.48" width="3.8" height="20.02" fill="#c6c6c6" stroke="#6a6a6a" stroke-width="0.8"/>
<line x1="316.08" y1="518.37" x2="316.08" y2="524.08" stroke="#555" stroke-width="0.9"/>
<line x1="314.38" y1="518.37" x2="317.78" y2="518.37" stroke="#555" stroke-width="0.9"/>
<rect x="319.26" y="535.35" width="3.8" height="9.15" fill="#555555" stroke="#6a6a6a" stroke-width="0.8"/>
<line x1="321.16" y1="527.02" x2="321.16" y2="534.95" stroke="#555" stroke-width="0.9"/>
<line x1="319.46" y1="527.02" x2="322.86" y2="527.02" stroke="#555" stroke-width="0.9"/>
<rect x="324.34" y="529.55" width="3.8" height="14.95" fill="#e6e6e6" stroke="#6a6a6a" stroke-width="0.8"/>
<line x1="326.24" y1="520.25" x2="326.24" y2="529.15" stroke="#555" stroke-width="0.9"/>
<line x1="324.54" y1="520.25" x2="327.94" y2="520.25" stroke="#555" stroke-width="0.9"/>
<rect x="349.3" y="431.56" width="4.6" height="112.94" fill="#000"/>
<line x1="351.6" y1="408.52" x2="351.6" y2="431.56" stroke="#555" stroke-width="0.9"/>
<line x1="349.9" y1="408.52" x2="353.3" y2="408.52" stroke="#555" stroke-width="0.9"/>
<rect x="354.78" y="519.58" width="3.8" height="24.92" fill="#c6c6c6" stroke="#6a6a6a" stroke-width="0.8"/>
<line x1="356.68" y1="516.41" x2="356.68" y2="519.18" stroke="#555" stroke-width="0.9"/>
<line x1="354.98" y1="516.41" x2="358.38" y2="516.41" stroke="#555" stroke-width="0.9"/>
<rect x="359.86" y="526.36" width="3.8" height="18.14" fill="#555555" stroke="#6a6a6a" stroke-width="0.8"/>
<line x1="361.76" y1="516.41" x2="361.76" y2="525.96" stroke="#555" stroke-width="0.9"/>
<line x1="360.06" y1="516.41" x2="363.46" y2="516.41" stroke="#555" stroke-width="0.9"/>
<rect x="364.94" y="527.42" width="3.8" height="17.08" fill="#e6e6e6" stroke="#6a6a6a" stroke-width="0.8"/>
<line x1="366.84" y1="522.45" x2="366.84" y2="527.02" stroke="#555" stroke-width="0.9"/>
<line x1="365.14" y1="522.45" x2="368.54" y2="522.45" stroke="#555" stroke-width="0.9"/>
<rect x="390.2" y="489.95" width="4.6" height="54.55" fill="#000"/>
<line x1="392.5" y1="472.23" x2="392.5" y2="489.95" stroke="#555" stroke-width="0.9"/>
<line x1="390.8" y1="472.23" x2="394.2" y2="472.23" stroke="#555" stroke-width="0.9"/>
<rect x="395.68" y="510.52" width="3.8" height="33.98" fill="#c6c6c6" stroke="#6a6a6a" stroke-width="0.8"/>
<line x1="397.58" y1="505.38" x2="397.58" y2="510.12" stroke="#555" stroke-width="0.9"/>
<line x1="395.88" y1="505.38" x2="399.28" y2="505.38" stroke="#555" stroke-width="0.9"/>
<rect x="400.76" y="519.01" width="3.8" height="25.49" fill="#555555" stroke="#6a6a6a" stroke-width="0.8"/>
<line x1="402.66" y1="507.91" x2="402.66" y2="518.61" stroke="#555" stroke-width="0.9"/>
<line x1="400.96" y1="507.91" x2="404.36" y2="507.91" stroke="#555" stroke-width="0.9"/>
<rect x="405.84" y="532.16" width="3.8" height="12.34" fill="#e6e6e6" stroke="#6a6a6a" stroke-width="0.8"/>
<line x1="407.74" y1="524.33" x2="407.74" y2="531.76" stroke="#555" stroke-width="0.9"/>
<line x1="406.04" y1="524.33" x2="409.44" y2="524.33" stroke="#555" stroke-width="0.9"/>
<rect x="431.4" y="496.24" width="4.6" height="48.26" fill="#000"/>
<line x1="433.7" y1="482.92" x2="433.7" y2="496.24" stroke="#555" stroke-width="0.9"/>
<line x1="432" y1="482.92" x2="435.4" y2="482.92" stroke="#555" stroke-width="0.9"/>
<rect x="436.88" y="530.69" width="3.8" height="13.81" fill="#c6c6c6" stroke="#6a6a6a" stroke-width="0.8"/>
<line x1="438.78" y1="523.43" x2="438.78" y2="530.29" stroke="#555" stroke-width="0.9"/>
<line x1="437.08" y1="523.43" x2="440.48" y2="523.43" stroke="#555" stroke-width="0.9"/>
<rect x="441.96" y="529.55" width="3.8" height="14.95" fill="#555555" stroke="#6a6a6a" stroke-width="0.8"/>
<line x1="443.86" y1="525.96" x2="443.86" y2="529.15" stroke="#555" stroke-width="0.9"/>
<line x1="442.16" y1="525.96" x2="445.56" y2="525.96" stroke="#555" stroke-width="0.9"/>
<rect x="447.04" y="530.69" width="3.8" height="13.81" fill="#e6e6e6" stroke="#6a6a6a" stroke-width="0.8"/>
<line x1="448.94" y1="524.33" x2="448.94" y2="530.29" stroke="#555" stroke-width="0.9"/>
<line x1="447.24" y1="524.33" x2="450.64" y2="524.33" stroke="#555" stroke-width="0.9"/>
<text x="318.7" y="556.6" font-size="7.8" text-anchor="middle" fill="#333" stroke="#333" stroke-width="0.3">0</text>
<line x1="318.6" y1="544.5" x2="318.6" y2="546.3" stroke="#7a7a7a" stroke-width="0.9"/>
<text x="359.3" y="556.6" font-size="7.8" text-anchor="middle" fill="#333" stroke="#333" stroke-width="0.3">3</text>
<line x1="359.2" y1="544.5" x2="359.2" y2="546.3" stroke="#7a7a7a" stroke-width="0.9"/>
<text x="400.2" y="556.6" font-size="7.8" text-anchor="middle" fill="#333" stroke="#333" stroke-width="0.3">7</text>
<line x1="400.1" y1="544.5" x2="400.1" y2="546.3" stroke="#7a7a7a" stroke-width="0.9"/>
<text x="441.4" y="556.6" font-size="7.8" text-anchor="middle" fill="#333" stroke="#333" stroke-width="0.3">14</text>
<line x1="441.3" y1="544.5" x2="441.3" y2="546.3" stroke="#7a7a7a" stroke-width="0.9"/>
<line x1="353.2" y1="406.1" x2="356.3" y2="406.1" stroke="#a0a0a0" stroke-width="0.8"/>
<line x1="356.3" y1="406.1" x2="356.3" y2="497" stroke="#a0a0a0" stroke-width="0.8"/>
<circle cx="352.4" cy="402.8" r="1.3" fill="#3a3a3a"/>
<circle cx="356.4" cy="402.8" r="1.3" fill="#3a3a3a"/>
<line x1="393.3" y1="469.3" x2="397" y2="469.3" stroke="#a0a0a0" stroke-width="0.8"/>
<line x1="397" y1="469.3" x2="397" y2="499.6" stroke="#a0a0a0" stroke-width="0.8"/>
<circle cx="394.9" cy="465.4" r="1.3" fill="#3a3a3a"/>
<line x1="434.5" y1="480.5" x2="437.8" y2="480.5" stroke="#a0a0a0" stroke-width="0.8"/>
<line x1="437.8" y1="480.5" x2="437.8" y2="511.3" stroke="#a0a0a0" stroke-width="0.8"/>
<circle cx="436.1" cy="476.7" r="1.3" fill="#3a3a3a"/>
<rect x="376" y="406.3" width="18.4" height="5.9" fill="#000"/>
<rect x="376.3" y="417.8" width="17.8" height="5.4" fill="#c6c6c6" stroke="#6a6a6a" stroke-width="0.8"/>
<rect x="376.3" y="428.8" width="17.8" height="5.4" fill="#555555" stroke="#6a6a6a" stroke-width="0.8"/>
<rect x="376.3" y="439.6" width="17.8" height="5.4" fill="#e6e6e6" stroke="#6a6a6a" stroke-width="0.8"/>
<text x="398.8" y="411.9" font-size="8.4" font-weight="bold" textLength="48.6" lengthAdjust="spacingAndGlyphs" fill="#1a1a1a" stroke="#1a1a1a" stroke-width="0.25">CD11c<tspan font-size="5" dy="-3.5">+</tspan><tspan dy="3.5"> (JEV)</tspan></text>
<text x="398.8" y="422.75" font-size="8.4" font-weight="bold" textLength="54.2" lengthAdjust="spacingAndGlyphs" fill="#1a1a1a" stroke="#1a1a1a" stroke-width="0.25">CD11c<tspan font-size="5" dy="-3.5">+</tspan><tspan dy="3.5"> (Mock)</tspan></text>
<text x="398.8" y="433.6" font-size="8.4" font-weight="bold" textLength="46.6" lengthAdjust="spacingAndGlyphs" fill="#1a1a1a" stroke="#1a1a1a" stroke-width="0.25">CD8&#945;<tspan font-size="5" dy="-3.5">+</tspan><tspan dy="3.5"> (JEV)</tspan></text>
<text x="398.8" y="444.45" font-size="8.4" font-weight="bold" textLength="51.6" lengthAdjust="spacingAndGlyphs" fill="#1a1a1a" stroke="#1a1a1a" stroke-width="0.25">CD8&#945;<tspan font-size="5" dy="-3.5">+</tspan><tspan dy="3.5"> (Mock)</tspan></text>
<text x="381.5" y="570.4" font-size="8.8" font-weight="bold" text-anchor="middle" textLength="80" lengthAdjust="spacingAndGlyphs" fill="#1a1a1a" stroke="#1a1a1a" stroke-width="0.25">Days post-infection</text>
<text x="0.2" y="615.6" font-size="18.3" fill="#1a1a1a" stroke="#000" stroke-width="0.18">D</text>
<line x1="26.4" y1="616.4" x2="130.4" y2="616.4" stroke="#aaa" stroke-width="0.9"/>
<line x1="130.4" y1="616.4" x2="130.4" y2="687" stroke="#aaa" stroke-width="0.9"/>
<line x1="26.4" y1="687" x2="130.4" y2="687" stroke="#777" stroke-width="1"/>
<line x1="26.4" y1="616.4" x2="26.4" y2="687" stroke="#777" stroke-width="1"/>
<line x1="24.9" y1="687" x2="26.4" y2="687" stroke="#666" stroke-width="0.6"/>
<text x="21.4" y="688.6" font-size="4.6" text-anchor="end" textLength="2.5" lengthAdjust="spacingAndGlyphs" fill="#333" stroke="#333" stroke-width="0.3">0</text>
<line x1="24.9" y1="672.88" x2="26.4" y2="672.88" stroke="#666" stroke-width="0.6"/>
<text x="21.4" y="674.48" font-size="4.6" text-anchor="end" textLength="4.8" lengthAdjust="spacingAndGlyphs" fill="#333" stroke="#333" stroke-width="0.3">20</text>
<line x1="24.9" y1="658.76" x2="26.4" y2="658.76" stroke="#666" stroke-width="0.6"/>
<text x="21.4" y="660.36" font-size="4.6" text-anchor="end" textLength="4.8" lengthAdjust="spacingAndGlyphs" fill="#333" stroke="#333" stroke-width="0.3">40</text>
<line x1="24.9" y1="644.64" x2="26.4" y2="644.64" stroke="#666" stroke-width="0.6"/>
<text x="21.4" y="646.24" font-size="4.6" text-anchor="end" textLength="4.8" lengthAdjust="spacingAndGlyphs" fill="#333" stroke="#333" stroke-width="0.3">60</text>
<line x1="24.9" y1="630.52" x2="26.4" y2="630.52" stroke="#666" stroke-width="0.6"/>
<text x="21.4" y="632.12" font-size="4.6" text-anchor="end" textLength="4.8" lengthAdjust="spacingAndGlyphs" fill="#333" stroke="#333" stroke-width="0.3">80</text>
<line x1="24.9" y1="616.4" x2="26.4" y2="616.4" stroke="#666" stroke-width="0.6"/>
<text x="21.4" y="618" font-size="4.6" text-anchor="end" textLength="7.6" lengthAdjust="spacingAndGlyphs" fill="#333" stroke="#333" stroke-width="0.3">100</text>
<line x1="26.4" y1="687" x2="26.4" y2="688.5" stroke="#666" stroke-width="0.6"/>
<text x="27" y="694.3" font-size="4" text-anchor="middle" fill="#333" stroke="#333" stroke-width="0.3">10<tspan font-size="3.0" dy="-2.0">0</tspan></text>
<line x1="52.4" y1="687" x2="52.4" y2="688.5" stroke="#666" stroke-width="0.6"/>
<text x="53" y="694.3" font-size="4" text-anchor="middle" fill="#333" stroke="#333" stroke-width="0.3">10<tspan font-size="3.0" dy="-2.0">1</tspan></text>
<line x1="78.4" y1="687" x2="78.4" y2="688.5" stroke="#666" stroke-width="0.6"/>
<text x="79" y="694.3" font-size="4" text-anchor="middle" fill="#333" stroke="#333" stroke-width="0.3">10<tspan font-size="3.0" dy="-2.0">2</tspan></text>
<line x1="104.4" y1="687" x2="104.4" y2="688.5" stroke="#666" stroke-width="0.6"/>
<text x="105" y="694.3" font-size="4" text-anchor="middle" fill="#333" stroke="#333" stroke-width="0.3">10<tspan font-size="3.0" dy="-2.0">3</tspan></text>
<text x="80" y="611" font-size="10.5" font-weight="bold" text-anchor="middle" fill="#1a1a1a" stroke="#1a1a1a" stroke-width="0.25">CD40</text>
<path d="M30.8,685.6 L36.5,683.3 L44.2,677.5 L50,669.8 L54.8,661.2 L59.6,650.6 L63.5,640 L66.3,630.4 L68.8,622.9 L70.2,621.4 L71.5,623.9 L73.1,632.3 L75.4,645.8 L77.9,657.3 L80.8,666 L84.6,672.7 L88.5,677.5 L94.2,681.3 L101.9,684.6 L111.5,686.2 L122,686.7" fill="none" stroke="#a8a8a8" stroke-width="0.9" stroke-linejoin="round"/>
<path d="M26.9,686.5 L26.9,653.5 L27.4,682.3 L28.8,682.7 L32.7,679.4 L36.5,674.6 L40.4,668.8 L44.2,662.1 L47.1,655.4 L50,645.8 L51.9,636.2 L53.8,630.4 L55.8,624.6 L57.7,622.3 L59,621.6 L60.6,622.7 L62,622.2 L63.5,623.7 L66.3,625.6 L68.8,629.4 L71.2,634.2 L73.1,641.9 L75.4,653.5 L77.9,663.1 L80.8,668.8 L84.6,673.7 L88.5,677.5 L94.2,681.3 L101.9,684.2 L109.6,685.8 L117.3,686.4 L126,686.7" fill="none" stroke="#000" stroke-width="1.8" stroke-linejoin="round"/>
<text x="79.5" y="629.4" font-size="9.2" textLength="40" lengthAdjust="spacingAndGlyphs" fill="#222" stroke="#222" stroke-width="0.16">Mock 142</text>
<text x="79.5" y="639.8" font-size="9.2" font-weight="bold" fill="#1a1a1a" stroke="#1a1a1a" stroke-width="0.25">JEV</text>
<text x="119.5" y="639.8" font-size="9.2" font-weight="bold" text-anchor="end" fill="#1a1a1a" stroke="#1a1a1a" stroke-width="0.25">89</text>
<line x1="166.7" y1="617.2" x2="267.8" y2="617.2" stroke="#aaa" stroke-width="0.9"/>
<line x1="267.8" y1="617.2" x2="267.8" y2="686.2" stroke="#aaa" stroke-width="0.9"/>
<line x1="166.7" y1="686.2" x2="267.8" y2="686.2" stroke="#777" stroke-width="1"/>
<line x1="166.7" y1="617.2" x2="166.7" y2="686.2" stroke="#777" stroke-width="1"/>
<line x1="165.2" y1="686.2" x2="166.7" y2="686.2" stroke="#666" stroke-width="0.6"/>
<text x="161.7" y="687.8" font-size="4.6" text-anchor="end" textLength="2.5" lengthAdjust="spacingAndGlyphs" fill="#333" stroke="#333" stroke-width="0.3">0</text>
<line x1="165.2" y1="672.4" x2="166.7" y2="672.4" stroke="#666" stroke-width="0.6"/>
<text x="161.7" y="674" font-size="4.6" text-anchor="end" textLength="4.8" lengthAdjust="spacingAndGlyphs" fill="#333" stroke="#333" stroke-width="0.3">20</text>
<line x1="165.2" y1="658.6" x2="166.7" y2="658.6" stroke="#666" stroke-width="0.6"/>
<text x="161.7" y="660.2" font-size="4.6" text-anchor="end" textLength="4.8" lengthAdjust="spacingAndGlyphs" fill="#333" stroke="#333" stroke-width="0.3">40</text>
<line x1="165.2" y1="644.8" x2="166.7" y2="644.8" stroke="#666" stroke-width="0.6"/>
<text x="161.7" y="646.4" font-size="4.6" text-anchor="end" textLength="4.8" lengthAdjust="spacingAndGlyphs" fill="#333" stroke="#333" stroke-width="0.3">60</text>
<line x1="165.2" y1="631" x2="166.7" y2="631" stroke="#666" stroke-width="0.6"/>
<text x="161.7" y="632.6" font-size="4.6" text-anchor="end" textLength="4.8" lengthAdjust="spacingAndGlyphs" fill="#333" stroke="#333" stroke-width="0.3">80</text>
<line x1="165.2" y1="617.2" x2="166.7" y2="617.2" stroke="#666" stroke-width="0.6"/>
<text x="161.7" y="618.8" font-size="4.6" text-anchor="end" textLength="7.6" lengthAdjust="spacingAndGlyphs" fill="#333" stroke="#333" stroke-width="0.3">100</text>
<line x1="166.7" y1="686.2" x2="166.7" y2="687.7" stroke="#666" stroke-width="0.6"/>
<text x="167.3" y="693.5" font-size="4" text-anchor="middle" fill="#333" stroke="#333" stroke-width="0.3">10<tspan font-size="3.0" dy="-2.0">0</tspan></text>
<line x1="191.97" y1="686.2" x2="191.97" y2="687.7" stroke="#666" stroke-width="0.6"/>
<text x="192.57" y="693.5" font-size="4" text-anchor="middle" fill="#333" stroke="#333" stroke-width="0.3">10<tspan font-size="3.0" dy="-2.0">1</tspan></text>
<line x1="217.25" y1="686.2" x2="217.25" y2="687.7" stroke="#666" stroke-width="0.6"/>
<text x="217.85" y="693.5" font-size="4" text-anchor="middle" fill="#333" stroke="#333" stroke-width="0.3">10<tspan font-size="3.0" dy="-2.0">2</tspan></text>
<line x1="242.53" y1="686.2" x2="242.53" y2="687.7" stroke="#666" stroke-width="0.6"/>
<text x="243.12" y="693.5" font-size="4" text-anchor="middle" fill="#333" stroke="#333" stroke-width="0.3">10<tspan font-size="3.0" dy="-2.0">3</tspan></text>
<text x="221.2" y="611.3" font-size="10.5" font-weight="bold" text-anchor="middle" fill="#1a1a1a" stroke="#1a1a1a" stroke-width="0.25">CD80</text>
<path d="M167.1,686 C167.1,677.53 167.02,635.48 167.1,635.2 C167.18,634.92 167.1,676.33 167.6,684.3 C168.1,692.27 169.02,683.67 170.1,683 C171.18,682.33 172.98,681.53 174.1,680.3 C175.22,679.07 175.9,677.73 176.8,675.6 C177.7,673.47 178.6,670.87 179.5,667.5 C180.4,664.13 181.42,659.67 182.2,655.4 C182.98,651.13 183.53,645.93 184.2,641.9 C184.87,637.87 185.53,634.2 186.2,631.2 C186.87,628.2 187.63,625.33 188.2,623.9 C188.77,622.47 189.15,622.52 189.6,622.6 C190.05,622.68 190.38,622.97 190.9,624.4 C191.42,625.83 192.13,628.73 192.7,631.2 C193.27,633.67 193.7,635.85 194.3,639.2 C194.9,642.55 195.63,647.25 196.3,651.3 C196.97,655.35 197.62,659.9 198.3,663.5 C198.98,667.1 199.62,670.1 200.4,672.9 C201.18,675.7 202,678.4 203,680.3 C204,682.2 205.15,683.37 206.4,684.3 C207.65,685.23 208.9,685.6 210.5,685.9 C212.1,686.2 215.08,686.07 216,686.1" fill="none" stroke="#000" stroke-width="1.8" stroke-linejoin="round"/>
<text x="219.5" y="630.4" font-size="9.2" textLength="34.5" lengthAdjust="spacingAndGlyphs" fill="#222" stroke="#222" stroke-width="0.16">Mock 37</text>
<text x="219.5" y="641.4" font-size="9.2" font-weight="bold" fill="#1a1a1a" stroke="#1a1a1a" stroke-width="0.25">JEV</text>
<text x="253.7" y="641.4" font-size="9.2" font-weight="bold" text-anchor="end" fill="#1a1a1a" stroke="#1a1a1a" stroke-width="0.25">40</text>
<line x1="27.2" y1="723.8" x2="128.7" y2="723.8" stroke="#aaa" stroke-width="0.9"/>
<line x1="128.7" y1="723.8" x2="128.7" y2="792.9" stroke="#aaa" stroke-width="0.9"/>
<line x1="27.2" y1="792.9" x2="128.7" y2="792.9" stroke="#777" stroke-width="1"/>
<line x1="27.2" y1="723.8" x2="27.2" y2="792.9" stroke="#777" stroke-width="1"/>
<line x1="25.7" y1="792.9" x2="27.2" y2="792.9" stroke="#666" stroke-width="0.6"/>
<text x="22.2" y="794.5" font-size="4.6" text-anchor="end" textLength="2.5" lengthAdjust="spacingAndGlyphs" fill="#333" stroke="#333" stroke-width="0.3">0</text>
<line x1="25.7" y1="779.08" x2="27.2" y2="779.08" stroke="#666" stroke-width="0.6"/>
<text x="22.2" y="780.68" font-size="4.6" text-anchor="end" textLength="4.8" lengthAdjust="spacingAndGlyphs" fill="#333" stroke="#333" stroke-width="0.3">20</text>
<line x1="25.7" y1="765.26" x2="27.2" y2="765.26" stroke="#666" stroke-width="0.6"/>
<text x="22.2" y="766.86" font-size="4.6" text-anchor="end" textLength="4.8" lengthAdjust="spacingAndGlyphs" fill="#333" stroke="#333" stroke-width="0.3">40</text>
<line x1="25.7" y1="751.44" x2="27.2" y2="751.44" stroke="#666" stroke-width="0.6"/>
<text x="22.2" y="753.04" font-size="4.6" text-anchor="end" textLength="4.8" lengthAdjust="spacingAndGlyphs" fill="#333" stroke="#333" stroke-width="0.3">60</text>
<line x1="25.7" y1="737.62" x2="27.2" y2="737.62" stroke="#666" stroke-width="0.6"/>
<text x="22.2" y="739.22" font-size="4.6" text-anchor="end" textLength="4.8" lengthAdjust="spacingAndGlyphs" fill="#333" stroke="#333" stroke-width="0.3">80</text>
<line x1="25.7" y1="723.8" x2="27.2" y2="723.8" stroke="#666" stroke-width="0.6"/>
<text x="22.2" y="725.4" font-size="4.6" text-anchor="end" textLength="7.6" lengthAdjust="spacingAndGlyphs" fill="#333" stroke="#333" stroke-width="0.3">100</text>
<line x1="27.2" y1="792.9" x2="27.2" y2="794.4" stroke="#666" stroke-width="0.6"/>
<text x="27.8" y="800.2" font-size="4" text-anchor="middle" fill="#333" stroke="#333" stroke-width="0.3">10<tspan font-size="3.0" dy="-2.0">0</tspan></text>
<line x1="52.57" y1="792.9" x2="52.57" y2="794.4" stroke="#666" stroke-width="0.6"/>
<text x="53.17" y="800.2" font-size="4" text-anchor="middle" fill="#333" stroke="#333" stroke-width="0.3">10<tspan font-size="3.0" dy="-2.0">1</tspan></text>
<line x1="77.95" y1="792.9" x2="77.95" y2="794.4" stroke="#666" stroke-width="0.6"/>
<text x="78.55" y="800.2" font-size="4" text-anchor="middle" fill="#333" stroke="#333" stroke-width="0.3">10<tspan font-size="3.0" dy="-2.0">2</tspan></text>
<line x1="103.32" y1="792.9" x2="103.32" y2="794.4" stroke="#666" stroke-width="0.6"/>
<text x="103.92" y="800.2" font-size="4" text-anchor="middle" fill="#333" stroke="#333" stroke-width="0.3">10<tspan font-size="3.0" dy="-2.0">3</tspan></text>
<text x="80.8" y="718.6" font-size="10.5" font-weight="bold" text-anchor="middle" fill="#1a1a1a" stroke="#1a1a1a" stroke-width="0.25">CD86</text>
<path d="M28.4,789.3 C28.95,788.85 30.47,787.72 31.7,786.6 C32.93,785.48 34.57,784.4 35.8,782.6 C37.03,780.8 38.1,778.5 39.1,775.8 C40.1,773.1 41.02,769.77 41.8,766.4 C42.58,763.03 43.12,759.42 43.8,755.6 C44.48,751.78 45.27,747.08 45.9,743.5 C46.53,739.92 47.05,736.42 47.6,734.1 C48.15,731.78 48.7,730.05 49.2,729.6 C49.7,729.15 50.15,729.97 50.6,731.4 C51.05,732.83 51.42,735.28 51.9,738.2 C52.38,741.12 52.93,745.1 53.5,748.9 C54.07,752.7 54.67,757.18 55.3,761 C55.93,764.82 56.52,768.43 57.3,771.8 C58.08,775.17 58.98,778.52 60,781.2 C61.02,783.88 62.05,786.22 63.4,787.9 C64.75,789.58 66.42,790.57 68.1,791.3 C69.78,792.03 71.52,792.07 73.5,792.3 C75.48,792.53 78.92,792.63 80,792.7" fill="none" stroke="#a8a8a8" stroke-width="0.9" stroke-linejoin="round"/>
<path d="M27.5,792.5 C27.5,783 27.43,735.7 27.5,735.5 C27.57,735.3 27.2,781.97 27.9,791.3 C28.6,800.63 30.38,791.62 31.7,791.5 C33.02,791.38 34.45,791.08 35.8,790.6 C37.15,790.12 38.57,789.48 39.8,788.6 C41.03,787.72 42.18,786.98 43.2,785.3 C44.22,783.62 45.12,781.2 45.9,778.5 C46.68,775.8 47.23,772.68 47.9,769.1 C48.57,765.52 49.23,761.27 49.9,757 C50.57,752.73 51.3,747.53 51.9,743.5 C52.5,739.47 53,735.27 53.5,732.8 C54,730.33 54.45,729.15 54.9,728.7 C55.35,728.25 55.68,728.75 56.2,730.1 C56.72,731.45 57.42,734.12 58,736.8 C58.58,739.48 59.1,742.62 59.7,746.2 C60.3,749.78 60.88,754.48 61.6,758.3 C62.32,762.12 63.15,765.73 64,769.1 C64.85,772.47 65.8,775.8 66.7,778.5 C67.6,781.2 68.38,783.38 69.4,785.3 C70.42,787.22 71.68,788.88 72.8,790 C73.92,791.12 74.65,791.57 76.1,792 C77.55,792.43 79.18,792.47 81.5,792.6 C83.82,792.73 88.58,792.77 90,792.8" fill="none" stroke="#000" stroke-width="1.8" stroke-linejoin="round"/>
<text x="81.3" y="736.2" font-size="9.2" textLength="34.5" lengthAdjust="spacingAndGlyphs" fill="#222" stroke="#222" stroke-width="0.16">Mock 36</text>
<text x="81.3" y="746.8" font-size="9.2" font-weight="bold" fill="#1a1a1a" stroke="#1a1a1a" stroke-width="0.25">JEV</text>
<text x="115.8" y="746.8" font-size="9.2" font-weight="bold" text-anchor="end" fill="#1a1a1a" stroke="#1a1a1a" stroke-width="0.25">53</text>
<line x1="165.7" y1="721.1" x2="266.5" y2="721.1" stroke="#aaa" stroke-width="0.9"/>
<line x1="266.5" y1="721.1" x2="266.5" y2="789.4" stroke="#aaa" stroke-width="0.9"/>
<line x1="165.7" y1="789.4" x2="266.5" y2="789.4" stroke="#777" stroke-width="1"/>
<line x1="165.7" y1="721.1" x2="165.7" y2="789.4" stroke="#777" stroke-width="1"/>
<line x1="164.2" y1="789.4" x2="165.7" y2="789.4" stroke="#666" stroke-width="0.6"/>
<text x="160.7" y="791" font-size="4.6" text-anchor="end" textLength="2.5" lengthAdjust="spacingAndGlyphs" fill="#333" stroke="#333" stroke-width="0.3">0</text>
<line x1="164.2" y1="775.74" x2="165.7" y2="775.74" stroke="#666" stroke-width="0.6"/>
<text x="160.7" y="777.34" font-size="4.6" text-anchor="end" textLength="4.8" lengthAdjust="spacingAndGlyphs" fill="#333" stroke="#333" stroke-width="0.3">20</text>
<line x1="164.2" y1="762.08" x2="165.7" y2="762.08" stroke="#666" stroke-width="0.6"/>
<text x="160.7" y="763.68" font-size="4.6" text-anchor="end" textLength="4.8" lengthAdjust="spacingAndGlyphs" fill="#333" stroke="#333" stroke-width="0.3">40</text>
<line x1="164.2" y1="748.42" x2="165.7" y2="748.42" stroke="#666" stroke-width="0.6"/>
<text x="160.7" y="750.02" font-size="4.6" text-anchor="end" textLength="4.8" lengthAdjust="spacingAndGlyphs" fill="#333" stroke="#333" stroke-width="0.3">60</text>
<line x1="164.2" y1="734.76" x2="165.7" y2="734.76" stroke="#666" stroke-width="0.6"/>
<text x="160.7" y="736.36" font-size="4.6" text-anchor="end" textLength="4.8" lengthAdjust="spacingAndGlyphs" fill="#333" stroke="#333" stroke-width="0.3">80</text>
<line x1="164.2" y1="721.1" x2="165.7" y2="721.1" stroke="#666" stroke-width="0.6"/>
<text x="160.7" y="722.7" font-size="4.6" text-anchor="end" textLength="7.6" lengthAdjust="spacingAndGlyphs" fill="#333" stroke="#333" stroke-width="0.3">100</text>
<line x1="165.7" y1="789.4" x2="165.7" y2="790.9" stroke="#666" stroke-width="0.6"/>
<text x="166.3" y="796.7" font-size="4" text-anchor="middle" fill="#333" stroke="#333" stroke-width="0.3">10<tspan font-size="3.0" dy="-2.0">0</tspan></text>
<line x1="190.9" y1="789.4" x2="190.9" y2="790.9" stroke="#666" stroke-width="0.6"/>
<text x="191.5" y="796.7" font-size="4" text-anchor="middle" fill="#333" stroke="#333" stroke-width="0.3">10<tspan font-size="3.0" dy="-2.0">1</tspan></text>
<line x1="216.1" y1="789.4" x2="216.1" y2="790.9" stroke="#666" stroke-width="0.6"/>
<text x="216.7" y="796.7" font-size="4" text-anchor="middle" fill="#333" stroke="#333" stroke-width="0.3">10<tspan font-size="3.0" dy="-2.0">2</tspan></text>
<line x1="241.3" y1="789.4" x2="241.3" y2="790.9" stroke="#666" stroke-width="0.6"/>
<text x="241.9" y="796.7" font-size="4" text-anchor="middle" fill="#333" stroke="#333" stroke-width="0.3">10<tspan font-size="3.0" dy="-2.0">3</tspan></text>
<text x="220.8" y="716" font-size="10.5" font-weight="bold" text-anchor="middle" fill="#1a1a1a" stroke="#1a1a1a" stroke-width="0.25">MHC I</text>
<path d="M188,789.2 L191.2,788.5 L197.3,786.2 L201.9,780 L205,766.2 L207.3,750.8 L208.8,735.4 L209.9,731.5 L211.9,730.5 L213,731.5 L214.2,729.2 L215.8,735.4 L217,737 L218.1,740 L220.4,744.6 L221.5,745.5 L222.7,751.5 L224.2,756.9 L225.8,759.2 L226.8,758.5 L228.1,764.6 L231.2,770.8 L234.2,773.8 L238.1,776.9 L241.9,779.2 L245,781.5 L248.1,785.4 L250.4,787.7 L252.7,789 L256,789.3" fill="none" stroke="#a8a8a8" stroke-width="0.9" stroke-linejoin="round"/>
<path d="M191,789.2 L194.2,788.5 L200.4,786.2 L204.2,781.5 L206.5,773.8 L208.8,761.5 L210.4,750.8 L211.9,741.5 L213.5,735.4 L215,732.3 L216.5,729.4 L217.6,731.5 L218.8,733.8 L220.1,732 L221.9,733.8 L224.2,737.7 L226.5,743 L228.8,746.9 L231.2,752.3 L234.2,756.9 L237.3,762.3 L240.4,767.7 L243.5,772.3 L246.5,776.9 L249.6,783.1 L251.9,786.9 L254.2,788.5 L257.3,789 L262,789.2" fill="none" stroke="#000" stroke-width="1.8" stroke-linejoin="round"/>
<text x="223" y="731.5" font-size="9.2" textLength="40.3" lengthAdjust="spacingAndGlyphs" fill="#222" stroke="#222" stroke-width="0.16">Mock 130</text>
<text x="223" y="743" font-size="9.2" font-weight="bold" fill="#1a1a1a" stroke="#1a1a1a" stroke-width="0.25">JEV</text>
<text x="263.3" y="743" font-size="9.2" font-weight="bold" text-anchor="end" fill="#1a1a1a" stroke="#1a1a1a" stroke-width="0.25">298</text>
<line x1="25.7" y1="827.8" x2="127.9" y2="827.8" stroke="#aaa" stroke-width="0.9"/>
<line x1="127.9" y1="827.8" x2="127.9" y2="896.4" stroke="#aaa" stroke-width="0.9"/>
<line x1="25.7" y1="896.4" x2="127.9" y2="896.4" stroke="#777" stroke-width="1"/>
<line x1="25.7" y1="827.8" x2="25.7" y2="896.4" stroke="#777" stroke-width="1"/>
<line x1="24.2" y1="896.4" x2="25.7" y2="896.4" stroke="#666" stroke-width="0.6"/>
<text x="20.7" y="898" font-size="4.6" text-anchor="end" textLength="2.5" lengthAdjust="spacingAndGlyphs" fill="#333" stroke="#333" stroke-width="0.3">0</text>
<line x1="24.2" y1="882.68" x2="25.7" y2="882.68" stroke="#666" stroke-width="0.6"/>
<text x="20.7" y="884.28" font-size="4.6" text-anchor="end" textLength="4.8" lengthAdjust="spacingAndGlyphs" fill="#333" stroke="#333" stroke-width="0.3">20</text>
<line x1="24.2" y1="868.96" x2="25.7" y2="868.96" stroke="#666" stroke-width="0.6"/>
<text x="20.7" y="870.56" font-size="4.6" text-anchor="end" textLength="4.8" lengthAdjust="spacingAndGlyphs" fill="#333" stroke="#333" stroke-width="0.3">40</text>
<line x1="24.2" y1="855.24" x2="25.7" y2="855.24" stroke="#666" stroke-width="0.6"/>
<text x="20.7" y="856.84" font-size="4.6" text-anchor="end" textLength="4.8" lengthAdjust="spacingAndGlyphs" fill="#333" stroke="#333" stroke-width="0.3">60</text>
<line x1="24.2" y1="841.52" x2="25.7" y2="841.52" stroke="#666" stroke-width="0.6"/>
<text x="20.7" y="843.12" font-size="4.6" text-anchor="end" textLength="4.8" lengthAdjust="spacingAndGlyphs" fill="#333" stroke="#333" stroke-width="0.3">80</text>
<line x1="24.2" y1="827.8" x2="25.7" y2="827.8" stroke="#666" stroke-width="0.6"/>
<text x="20.7" y="829.4" font-size="4.6" text-anchor="end" textLength="7.6" lengthAdjust="spacingAndGlyphs" fill="#333" stroke="#333" stroke-width="0.3">100</text>
<line x1="25.7" y1="896.4" x2="25.7" y2="897.9" stroke="#666" stroke-width="0.6"/>
<text x="26.3" y="903.7" font-size="4" text-anchor="middle" fill="#333" stroke="#333" stroke-width="0.3">10<tspan font-size="3.0" dy="-2.0">0</tspan></text>
<line x1="51.25" y1="896.4" x2="51.25" y2="897.9" stroke="#666" stroke-width="0.6"/>
<text x="51.85" y="903.7" font-size="4" text-anchor="middle" fill="#333" stroke="#333" stroke-width="0.3">10<tspan font-size="3.0" dy="-2.0">1</tspan></text>
<line x1="76.8" y1="896.4" x2="76.8" y2="897.9" stroke="#666" stroke-width="0.6"/>
<text x="77.4" y="903.7" font-size="4" text-anchor="middle" fill="#333" stroke="#333" stroke-width="0.3">10<tspan font-size="3.0" dy="-2.0">2</tspan></text>
<line x1="102.35" y1="896.4" x2="102.35" y2="897.9" stroke="#666" stroke-width="0.6"/>
<text x="102.95" y="903.7" font-size="4" text-anchor="middle" fill="#333" stroke="#333" stroke-width="0.3">10<tspan font-size="3.0" dy="-2.0">3</tspan></text>
<text x="76.7" y="823" font-size="10.5" font-weight="bold" text-anchor="middle" fill="#1a1a1a" stroke="#1a1a1a" stroke-width="0.25">MHC II</text>
<path d="M52,896.3 L55.8,896 L61.9,892.6 L65,884.9 L67.3,872.6 L69.6,858.8 L71.9,848 L74.2,840.3 L76.5,835.9 L78.1,838 L79.6,839.5 L81.9,843.4 L84.2,847.2 L86.5,851.1 L87.5,851.5 L89.6,857.2 L92.7,863.4 L95.8,868.8 L98.8,874.2 L101.9,878.8 L104.2,882.6 L106.5,886.5 L108.8,891.1 L111.2,895 L113.5,896.2 L118,896.4" fill="none" stroke="#a8a8a8" stroke-width="0.9" stroke-linejoin="round"/>
<path d="M48,896.3 L51.2,896.2 L55,894.9 L58.1,889.5 L60.4,881.8 L62.7,871.1 L64.2,861.8 L65.8,851.1 L67,841.1 L68.1,838.2 L69.3,837.7 L70.4,840.3 L71.2,844.9 L72.7,849.5 L74.2,855.7 L75.8,861.1 L78.1,864.9 L80.4,868.8 L81.9,872.6 L83.5,869.5 L85,871.8 L87.3,874.2 L89.6,877.2 L91.9,882.6 L94.2,885.7 L97.3,889.5 L100.4,892.6 L103.5,894.9 L106.5,896.2 L112,896.4" fill="none" stroke="#000" stroke-width="1.8" stroke-linejoin="round"/>
<text x="80.8" y="839.3" font-size="9.2" textLength="37.7" lengthAdjust="spacingAndGlyphs" fill="#222" stroke="#222" stroke-width="0.16">Mock 227</text>
<text x="80.8" y="850" font-size="9.2" font-weight="bold" fill="#1a1a1a" stroke="#1a1a1a" stroke-width="0.25">JEV</text>
<text x="118.5" y="850" font-size="9.2" font-weight="bold" text-anchor="end" fill="#1a1a1a" stroke="#1a1a1a" stroke-width="0.25">128</text>
<text x="294.4" y="615.6" font-size="18.3" fill="#1a1a1a" stroke="#000" stroke-width="0.18">E</text>
<line x1="336.8" y1="625.8" x2="518.4" y2="625.8" stroke="#9a9a9a" stroke-width="1.3"/>
<line x1="518.4" y1="625.8" x2="518.4" y2="765.2" stroke="#9a9a9a" stroke-width="1.3"/>
<line x1="336.8" y1="765.2" x2="518.4" y2="765.2" stroke="#7a7a7a" stroke-width="1.3"/>
<line x1="336.8" y1="625.2" x2="336.8" y2="765.8" stroke="#7a7a7a" stroke-width="1.3"/>
<line x1="334.8" y1="762.8" x2="336.8" y2="762.8" stroke="#7a7a7a" stroke-width="1"/>
<text x="331.3" y="765.4" font-size="7.4" text-anchor="end" fill="#333" stroke="#333" stroke-width="0.3">0</text>
<line x1="334.8" y1="743.23" x2="336.8" y2="743.23" stroke="#7a7a7a" stroke-width="1"/>
<text x="331.3" y="745.83" font-size="7.4" text-anchor="end" fill="#333" stroke="#333" stroke-width="0.3">500</text>
<line x1="334.8" y1="723.66" x2="336.8" y2="723.66" stroke="#7a7a7a" stroke-width="1"/>
<text x="331.3" y="726.26" font-size="7.4" text-anchor="end" fill="#333" stroke="#333" stroke-width="0.3">1000</text>
<line x1="334.8" y1="704.09" x2="336.8" y2="704.09" stroke="#7a7a7a" stroke-width="1"/>
<text x="331.3" y="706.69" font-size="7.4" text-anchor="end" fill="#333" stroke="#333" stroke-width="0.3">1500</text>
<line x1="334.8" y1="684.51" x2="336.8" y2="684.51" stroke="#7a7a7a" stroke-width="1"/>
<text x="331.3" y="687.11" font-size="7.4" text-anchor="end" fill="#333" stroke="#333" stroke-width="0.3">2000</text>
<line x1="334.8" y1="664.94" x2="336.8" y2="664.94" stroke="#7a7a7a" stroke-width="1"/>
<text x="331.3" y="667.54" font-size="7.4" text-anchor="end" fill="#333" stroke="#333" stroke-width="0.3">2500</text>
<line x1="334.8" y1="645.37" x2="336.8" y2="645.37" stroke="#7a7a7a" stroke-width="1"/>
<text x="331.3" y="647.97" font-size="7.4" text-anchor="end" fill="#333" stroke="#333" stroke-width="0.3">3000</text>
<line x1="334.8" y1="625.8" x2="336.8" y2="625.8" stroke="#7a7a7a" stroke-width="1"/>
<text x="331.3" y="628.4" font-size="7.4" text-anchor="end" fill="#333" stroke="#333" stroke-width="0.3">3500</text>
<text x="303" y="693.4" font-size="8.6" font-weight="bold" text-anchor="middle" textLength="138.4" lengthAdjust="spacingAndGlyphs" transform="rotate(-90 303 693.4)" fill="#1a1a1a" stroke="#1a1a1a" stroke-width="0.25">Relative luminescence units (RLUs)</text>
<polyline points="359.3,753.01 404.9,754.38 449.6,755.95 495.3,756.34" fill="none" stroke="#555" stroke-width="0.9"/>
<polyline points="359.3,755.56 404.9,754.78 449.6,756.73 495.3,756.93" fill="none" stroke="#555" stroke-width="0.9"/>
<polyline points="359.3,695.47 404.9,702.13 449.6,708.78 495.3,722.48" fill="none" stroke="#333" stroke-width="0.9"/>
<polyline points="359.3,665.73 404.9,648.5 449.6,684.91 495.3,695.47" fill="none" stroke="#333" stroke-width="0.9"/>
<line x1="359.3" y1="696.65" x2="359.3" y2="694.3" stroke="#555" stroke-width="0.9"/>
<line x1="357.7" y1="696.65" x2="360.9" y2="696.65" stroke="#555" stroke-width="0.9"/>
<line x1="357.7" y1="694.3" x2="360.9" y2="694.3" stroke="#555" stroke-width="0.9"/>
<line x1="404.9" y1="712.31" x2="404.9" y2="693.13" stroke="#555" stroke-width="0.9"/>
<line x1="403.3" y1="712.31" x2="406.5" y2="712.31" stroke="#555" stroke-width="0.9"/>
<line x1="403.3" y1="693.13" x2="406.5" y2="693.13" stroke="#555" stroke-width="0.9"/>
<line x1="449.6" y1="713.09" x2="449.6" y2="705.26" stroke="#555" stroke-width="0.9"/>
<line x1="448" y1="713.09" x2="451.2" y2="713.09" stroke="#555" stroke-width="0.9"/>
<line x1="448" y1="705.26" x2="451.2" y2="705.26" stroke="#555" stroke-width="0.9"/>
<line x1="495.3" y1="728.75" x2="495.3" y2="716.61" stroke="#555" stroke-width="0.9"/>
<line x1="493.7" y1="728.75" x2="496.9" y2="728.75" stroke="#555" stroke-width="0.9"/>
<line x1="493.7" y1="716.61" x2="496.9" y2="716.61" stroke="#555" stroke-width="0.9"/>
<line x1="359.3" y1="670.42" x2="359.3" y2="658.29" stroke="#555" stroke-width="0.9"/>
<line x1="357.7" y1="670.42" x2="360.9" y2="670.42" stroke="#555" stroke-width="0.9"/>
<line x1="357.7" y1="658.29" x2="360.9" y2="658.29" stroke="#555" stroke-width="0.9"/>
<line x1="404.9" y1="649.68" x2="404.9" y2="645.76" stroke="#555" stroke-width="0.9"/>
<line x1="403.3" y1="649.68" x2="406.5" y2="649.68" stroke="#555" stroke-width="0.9"/>
<line x1="403.3" y1="645.76" x2="406.5" y2="645.76" stroke="#555" stroke-width="0.9"/>
<line x1="449.6" y1="690.78" x2="449.6" y2="675.51" stroke="#555" stroke-width="0.9"/>
<line x1="448" y1="690.78" x2="451.2" y2="690.78" stroke="#555" stroke-width="0.9"/>
<line x1="448" y1="675.51" x2="451.2" y2="675.51" stroke="#555" stroke-width="0.9"/>
<line x1="495.3" y1="700.95" x2="495.3" y2="688.82" stroke="#555" stroke-width="0.9"/>
<line x1="493.7" y1="700.95" x2="496.9" y2="700.95" stroke="#555" stroke-width="0.9"/>
<line x1="493.7" y1="688.82" x2="496.9" y2="688.82" stroke="#555" stroke-width="0.9"/>
<circle cx="359.3" cy="753.01" r="3.3" fill="#fff" stroke="#555" stroke-width="0.8"/>
<circle cx="404.9" cy="754.38" r="3.3" fill="#fff" stroke="#555" stroke-width="0.8"/>
<circle cx="449.6" cy="755.95" r="3.3" fill="#fff" stroke="#555" stroke-width="0.8"/>
<circle cx="495.3" cy="756.34" r="3.3" fill="#fff" stroke="#555" stroke-width="0.8"/>
<path d="M355.4,758.48 L363.2,758.48 L359.3,751.85 Z" fill="#fff" stroke="#555" stroke-width="0.8"/>
<path d="M401,757.7 L408.8,757.7 L404.9,751.07 Z" fill="#fff" stroke="#555" stroke-width="0.8"/>
<path d="M445.7,759.66 L453.5,759.66 L449.6,753.03 Z" fill="#fff" stroke="#555" stroke-width="0.8"/>
<path d="M491.4,759.85 L499.2,759.85 L495.3,753.22 Z" fill="#fff" stroke="#555" stroke-width="0.8"/>
<circle cx="359.3" cy="695.47" r="3.4" fill="#000"/>
<circle cx="404.9" cy="702.13" r="3.4" fill="#000"/>
<circle cx="449.6" cy="708.78" r="3.4" fill="#000"/>
<circle cx="495.3" cy="722.48" r="3.4" fill="#000"/>
<path d="M355.4,662.8 L363.2,662.8 L359.3,669.43 Z" fill="#000"/>
<path d="M401,645.58 L408.8,645.58 L404.9,652.21 Z" fill="#000"/>
<path d="M445.7,681.98 L453.5,681.98 L449.6,688.61 Z" fill="#000"/>
<path d="M491.4,692.55 L499.2,692.55 L495.3,699.18 Z" fill="#000"/>
<text x="359.3" y="778.8" font-size="8.2" text-anchor="middle" fill="#333" stroke="#333" stroke-width="0.3">1:12</text>
<line x1="359.3" y1="765.2" x2="359.3" y2="767" stroke="#7a7a7a" stroke-width="0.9"/>
<text x="404.9" y="778.8" font-size="8.2" text-anchor="middle" fill="#333" stroke="#333" stroke-width="0.3">1:25</text>
<line x1="404.9" y1="765.2" x2="404.9" y2="767" stroke="#7a7a7a" stroke-width="0.9"/>
<text x="449.6" y="778.8" font-size="8.2" text-anchor="middle" fill="#333" stroke="#333" stroke-width="0.3">1:50</text>
<line x1="449.6" y1="765.2" x2="449.6" y2="767" stroke="#7a7a7a" stroke-width="0.9"/>
<text x="495.3" y="778.8" font-size="8.2" text-anchor="middle" fill="#333" stroke="#333" stroke-width="0.3">1:100</text>
<line x1="495.3" y1="765.2" x2="495.3" y2="767" stroke="#7a7a7a" stroke-width="0.9"/>
<line x1="442.8" y1="636.9" x2="456.2" y2="636.9" stroke="#555" stroke-width="0.9"/>
<line x1="442.8" y1="646.9" x2="456.2" y2="646.9" stroke="#555" stroke-width="0.9"/>
<line x1="442.8" y1="656.9" x2="456.2" y2="656.9" stroke="#555" stroke-width="0.9"/>
<line x1="442.8" y1="666.9" x2="456.2" y2="666.9" stroke="#555" stroke-width="0.9"/>
<circle cx="449.5" cy="636.9" r="2.9" fill="#000"/>
<circle cx="449.5" cy="646.9" r="2.8" fill="#fff" stroke="#555" stroke-width="0.8"/>
<path d="M446.2,654.42 L452.8,654.42 L449.5,660.03 Z" fill="#000"/>
<path d="M446.2,669.38 L452.8,669.38 L449.5,663.76 Z" fill="#fff" stroke="#555" stroke-width="0.8"/>
<text x="460.8" y="639.3" font-size="6.8" font-weight="bold" textLength="47" lengthAdjust="spacingAndGlyphs" fill="#1a1a1a" stroke="#1a1a1a" stroke-width="0.25">JEV (SIINFEKL)</text>
<text x="460.8" y="649.3" font-size="6.8" font-weight="bold" textLength="50.6" lengthAdjust="spacingAndGlyphs" fill="#1a1a1a" stroke="#1a1a1a" stroke-width="0.25">JEV (no peptide)</text>
<text x="460.8" y="659.3" font-size="6.8" font-weight="bold" textLength="52.2" lengthAdjust="spacingAndGlyphs" fill="#1a1a1a" stroke="#1a1a1a" stroke-width="0.25">Mock (SIINFEKL)</text>
<text x="460.8" y="669.3" font-size="6.8" font-weight="bold" textLength="55.4" lengthAdjust="spacingAndGlyphs" fill="#1a1a1a" stroke="#1a1a1a" stroke-width="0.25">Mock (no peptide)</text>
<text x="427.4" y="796.4" font-size="8.6" font-weight="bold" text-anchor="middle" textLength="99.7" lengthAdjust="spacingAndGlyphs" fill="#1a1a1a" stroke="#1a1a1a" stroke-width="0.25">CD11c<tspan font-size="5" dy="-3.5">+</tspan><tspan dy="3.5"> DCs : CD8</tspan><tspan font-size="5" dy="-3.5">+</tspan><tspan dy="3.5"> T cells</tspan></text>
</svg></body></html>
